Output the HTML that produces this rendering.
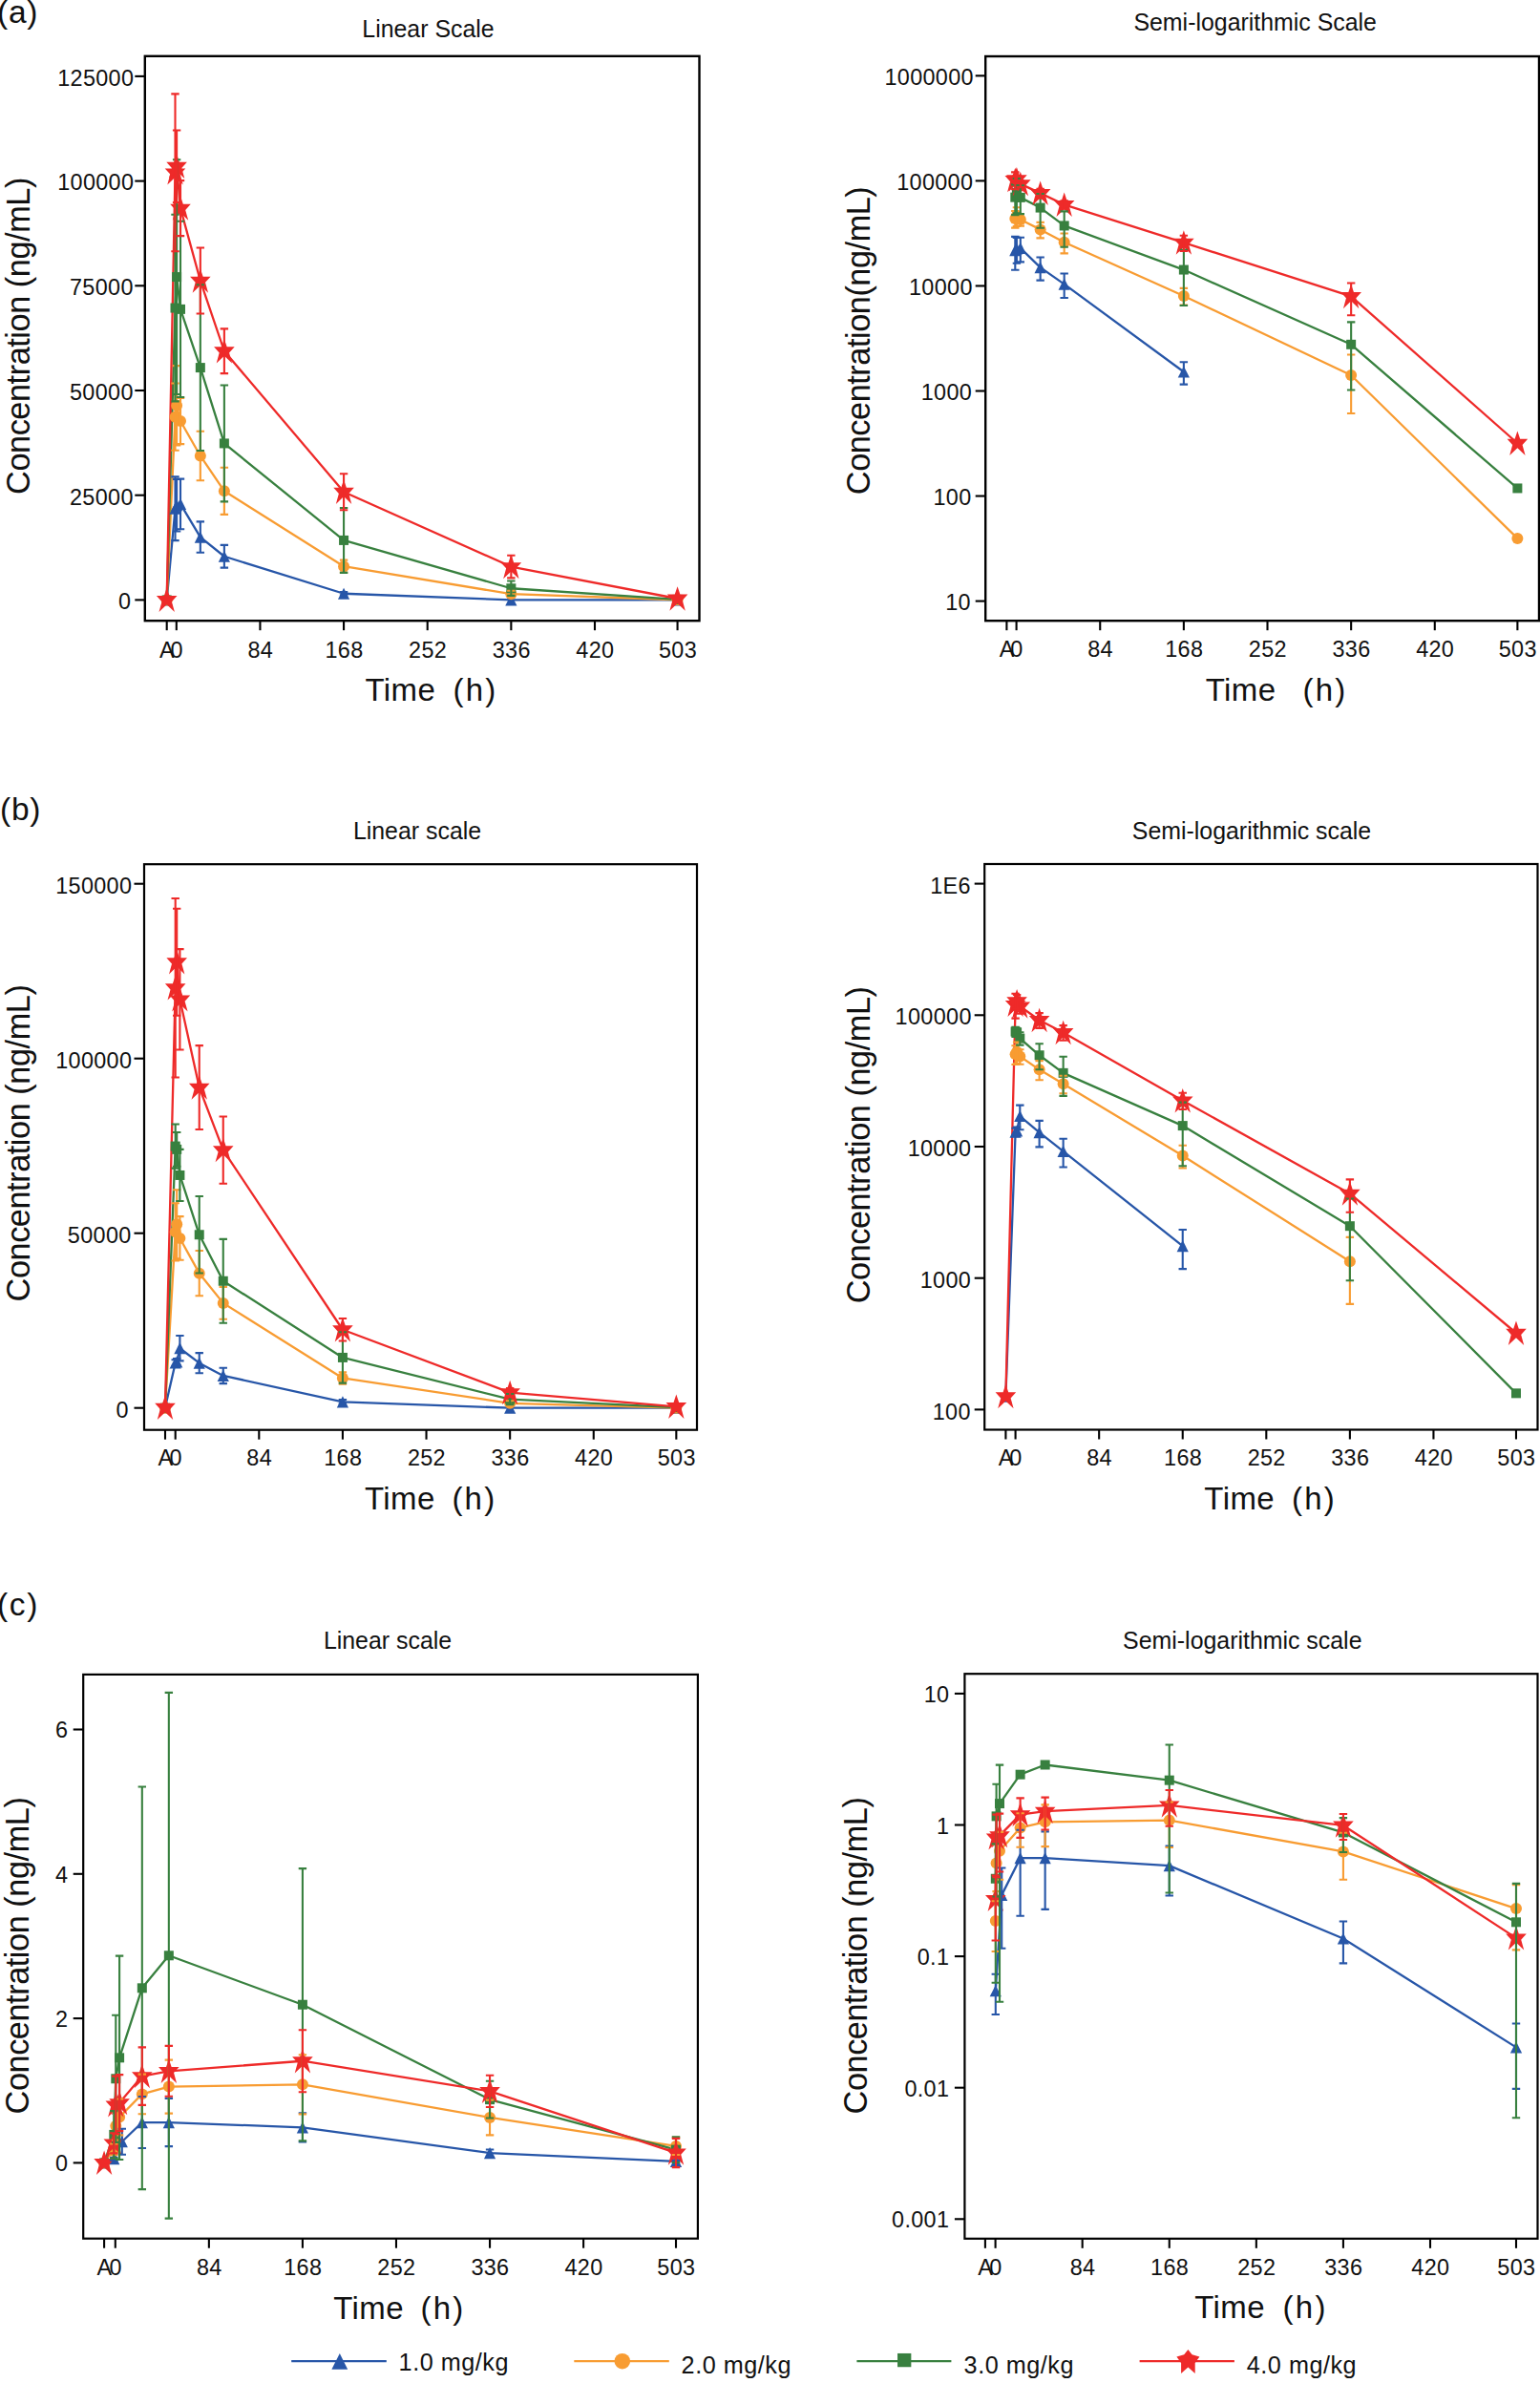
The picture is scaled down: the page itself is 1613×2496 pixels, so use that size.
<!DOCTYPE html>
<html lang="en"><head><meta charset="utf-8"><title>Concentration-time profiles</title>
<style>html,body{margin:0;padding:0;background:#fff}svg{display:block}</style></head>
<body>
<svg width="1613" height="2496" viewBox="0 0 1613 2496">
<rect width="1613" height="2496" fill="#fff"/>
<text x="-3" y="24.1" font-family="Liberation Sans, Arial, Helvetica, sans-serif" font-size="33.5" textLength="42.4" lengthAdjust="spacing" fill="#111">(a)</text>
<text x="0" y="858.5" font-family="Liberation Sans, Arial, Helvetica, sans-serif" font-size="33.5" textLength="42.4" lengthAdjust="spacing" fill="#111">(b)</text>
<text x="-3" y="1691.7" font-family="Liberation Sans, Arial, Helvetica, sans-serif" font-size="33.5" textLength="42.4" lengthAdjust="spacing" fill="#111">(c)</text>
<g id="aL">
<polyline fill="none" stroke="#2756A8" stroke-width="2.3" stroke-linejoin="round" points="174.7,628.4 183.5,532.74 185.1,529.23 189,527.91 209.84,562.58 234.88,582.76 360.07,621.73 535.35,628.4 709.58,628.4"/>
<polyline fill="none" stroke="#F89C32" stroke-width="2.3" stroke-linejoin="round" points="174.7,628.4 183.5,436.64 185.1,424.8 189,441.03 209.84,477.45 234.88,514.31 360.07,593.16 535.35,622.2 709.58,628.23"/>
<polyline fill="none" stroke="#38803F" stroke-width="2.3" stroke-linejoin="round" points="174.7,628.4 183.5,322.56 185.1,290.09 189,323.87 209.84,385.09 234.88,464.42 360.07,565.91 535.35,616.25 709.58,627.88"/>
<polyline fill="none" stroke="#EE2A29" stroke-width="2.3" stroke-linejoin="round" points="174.7,628.4 183.5,180.82 185.1,174.24 189,218.12 209.84,294.03 234.88,367.75 360.07,515.19 535.35,593.54 709.58,627"/>
<path d="M174.7 622.3 L180.8 634.5 L168.6 634.5 Z" fill="#2756A8"/>
<path d="M183.5 526.64 L189.6 538.84 L177.4 538.84 Z" fill="#2756A8"/>
<path d="M185.1 523.13 L191.2 535.33 L179 535.33 Z" fill="#2756A8"/>
<path d="M189 521.81 L195.1 534.01 L182.9 534.01 Z" fill="#2756A8"/>
<path d="M209.84 556.48 L215.94 568.68 L203.74 568.68 Z" fill="#2756A8"/>
<path d="M234.88 576.66 L240.98 588.86 L228.78 588.86 Z" fill="#2756A8"/>
<path d="M360.07 615.63 L366.17 627.83 L353.97 627.83 Z" fill="#2756A8"/>
<path d="M535.35 622.3 L541.45 634.5 L529.25 634.5 Z" fill="#2756A8"/>
<path d="M709.58 622.3 L715.68 634.5 L703.48 634.5 Z" fill="#2756A8"/>
<circle cx="174.7" cy="628.4" r="6" fill="#F89C32"/>
<circle cx="183.5" cy="436.64" r="6" fill="#F89C32"/>
<circle cx="185.1" cy="424.8" r="6" fill="#F89C32"/>
<circle cx="189" cy="441.03" r="6" fill="#F89C32"/>
<circle cx="209.84" cy="477.45" r="6" fill="#F89C32"/>
<circle cx="234.88" cy="514.31" r="6" fill="#F89C32"/>
<circle cx="360.07" cy="593.16" r="6" fill="#F89C32"/>
<circle cx="535.35" cy="622.2" r="6" fill="#F89C32"/>
<circle cx="709.58" cy="628.23" r="6" fill="#F89C32"/>
<rect x="169.7" y="623.4" width="10" height="10" fill="#38803F"/>
<rect x="178.5" y="317.56" width="10" height="10" fill="#38803F"/>
<rect x="180.1" y="285.09" width="10" height="10" fill="#38803F"/>
<rect x="184" y="318.87" width="10" height="10" fill="#38803F"/>
<rect x="204.84" y="380.09" width="10" height="10" fill="#38803F"/>
<rect x="229.88" y="459.42" width="10" height="10" fill="#38803F"/>
<rect x="355.07" y="560.91" width="10" height="10" fill="#38803F"/>
<rect x="530.35" y="611.25" width="10" height="10" fill="#38803F"/>
<rect x="704.58" y="622.88" width="10" height="10" fill="#38803F"/>
<path d="M174.7 615.6 L177.5 624 L185.5 624 L179.9 630.2 L182.9 641.1 L174.7 633.3 L166.5 641.1 L169.5 630.2 L163.9 624 L171.9 624 Z" fill="#EE2A29"/>
<path d="M183.5 168.02 L186.3 176.42 L194.3 176.42 L188.7 182.62 L191.7 193.52 L183.5 185.72 L175.3 193.52 L178.3 182.62 L172.7 176.42 L180.7 176.42 Z" fill="#EE2A29"/>
<path d="M185.1 161.44 L187.9 169.84 L195.9 169.84 L190.3 176.04 L193.3 186.94 L185.1 179.14 L176.9 186.94 L179.9 176.04 L174.3 169.84 L182.3 169.84 Z" fill="#EE2A29"/>
<path d="M189 205.32 L191.8 213.72 L199.8 213.72 L194.2 219.92 L197.2 230.82 L189 223.02 L180.8 230.82 L183.8 219.92 L178.2 213.72 L186.2 213.72 Z" fill="#EE2A29"/>
<path d="M209.84 281.23 L212.64 289.63 L220.64 289.63 L215.04 295.83 L218.04 306.73 L209.84 298.93 L201.64 306.73 L204.64 295.83 L199.04 289.63 L207.04 289.63 Z" fill="#EE2A29"/>
<path d="M234.88 354.95 L237.68 363.35 L245.68 363.35 L240.08 369.55 L243.08 380.45 L234.88 372.65 L226.68 380.45 L229.68 369.55 L224.08 363.35 L232.08 363.35 Z" fill="#EE2A29"/>
<path d="M360.07 502.39 L362.87 510.79 L370.87 510.79 L365.27 516.99 L368.27 527.89 L360.07 520.09 L351.87 527.89 L354.87 516.99 L349.27 510.79 L357.27 510.79 Z" fill="#EE2A29"/>
<path d="M535.35 580.74 L538.15 589.14 L546.15 589.14 L540.55 595.34 L543.55 606.24 L535.35 598.44 L527.15 606.24 L530.15 595.34 L524.55 589.14 L532.55 589.14 Z" fill="#EE2A29"/>
<path d="M709.58 614.2 L712.38 622.6 L720.38 622.6 L714.78 628.8 L717.78 639.7 L709.58 631.9 L701.38 639.7 L704.38 628.8 L698.78 622.6 L706.78 622.6 Z" fill="#EE2A29"/>
<path d="M183.5 499.39 V566.09 M179.3 499.39 H187.7 M179.3 566.09 H187.7" fill="none" stroke="#2756A8" stroke-width="2.1"/>
<path d="M185.1 502.03 V556.44 M180.9 502.03 H189.3 M180.9 556.44 H189.3" fill="none" stroke="#2756A8" stroke-width="2.1"/>
<path d="M189 501.59 V554.24 M184.8 501.59 H193.2 M184.8 554.24 H193.2" fill="none" stroke="#2756A8" stroke-width="2.1"/>
<path d="M209.84 546.34 V578.82 M205.64 546.34 H214.04 M205.64 578.82 H214.04" fill="none" stroke="#2756A8" stroke-width="2.1"/>
<path d="M234.88 570.92 V594.61 M230.68 570.92 H239.08 M230.68 594.61 H239.08" fill="none" stroke="#2756A8" stroke-width="2.1"/>
<path d="M360.07 620.13 V623.33 M355.87 620.13 H364.27 M355.87 623.33 H364.27" fill="none" stroke="#2756A8" stroke-width="2.1"/>
<path d="M183.5 401.54 V471.75 M179.3 401.54 H187.7 M179.3 471.75 H187.7" fill="none" stroke="#F89C32" stroke-width="2.1"/>
<path d="M185.1 383.11 V466.48 M180.9 383.11 H189.3 M180.9 466.48 H189.3" fill="none" stroke="#F89C32" stroke-width="2.1"/>
<path d="M189 416.9 V465.17 M184.8 416.9 H193.2 M184.8 465.17 H193.2" fill="none" stroke="#F89C32" stroke-width="2.1"/>
<path d="M209.84 451.7 V503.21 M205.64 451.7 H214.04 M205.64 503.21 H214.04" fill="none" stroke="#F89C32" stroke-width="2.1"/>
<path d="M234.88 489.74 V538.88 M230.68 489.74 H239.08 M230.68 538.88 H239.08" fill="none" stroke="#F89C32" stroke-width="2.1"/>
<path d="M360.07 586.67 V599.66 M355.87 586.67 H364.27 M355.87 599.66 H364.27" fill="none" stroke="#F89C32" stroke-width="2.1"/>
<path d="M535.35 618.69 V625.71 M531.15 618.69 H539.55 M531.15 625.71 H539.55" fill="none" stroke="#F89C32" stroke-width="2.1"/>
<path d="M183.5 224.7 V420.41 M179.3 224.7 H187.7 M179.3 420.41 H187.7" fill="none" stroke="#38803F" stroke-width="2.1"/>
<path d="M185.1 167.22 V412.95 M180.9 167.22 H189.3 M180.9 412.95 H189.3" fill="none" stroke="#38803F" stroke-width="2.1"/>
<path d="M189 231.72 V416.02 M184.8 231.72 H193.2 M184.8 416.02 H193.2" fill="none" stroke="#38803F" stroke-width="2.1"/>
<path d="M209.84 298.2 V471.97 M205.64 298.2 H214.04 M205.64 471.97 H214.04" fill="none" stroke="#38803F" stroke-width="2.1"/>
<path d="M234.88 403.43 V525.41 M230.68 403.43 H239.08 M230.68 525.41 H239.08" fill="none" stroke="#38803F" stroke-width="2.1"/>
<path d="M360.07 531.95 V599.88 M355.87 531.95 H364.27 M355.87 599.88 H364.27" fill="none" stroke="#38803F" stroke-width="2.1"/>
<path d="M535.35 608.57 V623.92 M531.15 608.57 H539.55 M531.15 623.92 H539.55" fill="none" stroke="#38803F" stroke-width="2.1"/>
<path d="M183.5 98.33 V263.32 M179.3 98.33 H187.7 M179.3 263.32 H187.7" fill="none" stroke="#EE2A29" stroke-width="2.1"/>
<path d="M185.1 136.51 V211.98 M180.9 136.51 H189.3 M180.9 211.98 H189.3" fill="none" stroke="#EE2A29" stroke-width="2.1"/>
<path d="M189 189.16 V247.08 M184.8 189.16 H193.2 M184.8 247.08 H193.2" fill="none" stroke="#EE2A29" stroke-width="2.1"/>
<path d="M209.84 259.54 V328.52 M205.64 259.54 H214.04 M205.64 328.52 H214.04" fill="none" stroke="#EE2A29" stroke-width="2.1"/>
<path d="M234.88 344.36 V391.14 M230.68 344.36 H239.08 M230.68 391.14 H239.08" fill="none" stroke="#EE2A29" stroke-width="2.1"/>
<path d="M360.07 496.19 V534.19 M355.87 496.19 H364.27 M355.87 534.19 H364.27" fill="none" stroke="#EE2A29" stroke-width="2.1"/>
<path d="M535.35 581.73 V605.34 M531.15 581.73 H539.55 M531.15 605.34 H539.55" fill="none" stroke="#EE2A29" stroke-width="2.1"/>
<rect x="151.8" y="58.8" width="580.7" height="591.4" fill="none" stroke="#000" stroke-width="2.4"/>
<line x1="141.3" y1="628.4" x2="151.8" y2="628.4" stroke="#000" stroke-width="2.1"/>
<text x="137.35" y="638.2" font-family="Liberation Sans, Arial, Helvetica, sans-serif" font-size="23.4" letter-spacing="0.35" text-anchor="end" fill="#111">0</text>
<line x1="141.3" y1="518.7" x2="151.8" y2="518.7" stroke="#000" stroke-width="2.1"/>
<text x="139.75" y="528.5" font-family="Liberation Sans, Arial, Helvetica, sans-serif" font-size="23.4" letter-spacing="0.35" text-anchor="end" fill="#111">25000</text>
<line x1="141.3" y1="409" x2="151.8" y2="409" stroke="#000" stroke-width="2.1"/>
<text x="139.75" y="418.8" font-family="Liberation Sans, Arial, Helvetica, sans-serif" font-size="23.4" letter-spacing="0.35" text-anchor="end" fill="#111">50000</text>
<line x1="141.3" y1="299.3" x2="151.8" y2="299.3" stroke="#000" stroke-width="2.1"/>
<text x="139.75" y="309.1" font-family="Liberation Sans, Arial, Helvetica, sans-serif" font-size="23.4" letter-spacing="0.35" text-anchor="end" fill="#111">75000</text>
<line x1="141.3" y1="189.6" x2="151.8" y2="189.6" stroke="#000" stroke-width="2.1"/>
<text x="140.35" y="199.4" font-family="Liberation Sans, Arial, Helvetica, sans-serif" font-size="23.4" letter-spacing="0.35" text-anchor="end" fill="#111">100000</text>
<line x1="141.3" y1="79.9" x2="151.8" y2="79.9" stroke="#000" stroke-width="2.1"/>
<text x="140.35" y="89.7" font-family="Liberation Sans, Arial, Helvetica, sans-serif" font-size="23.4" letter-spacing="0.35" text-anchor="end" fill="#111">125000</text>
<line x1="174.7" y1="650.2" x2="174.7" y2="660.2" stroke="#000" stroke-width="2.1"/>
<text x="175.1" y="688.8" font-family="Liberation Sans, Arial, Helvetica, sans-serif" font-size="23.4" letter-spacing="0.35" text-anchor="middle" fill="#111">A</text>
<line x1="184.8" y1="650.2" x2="184.8" y2="660.2" stroke="#000" stroke-width="2.1"/>
<text x="185.2" y="688.8" font-family="Liberation Sans, Arial, Helvetica, sans-serif" font-size="23.4" letter-spacing="0.35" text-anchor="middle" fill="#111">0</text>
<line x1="272.44" y1="650.2" x2="272.44" y2="660.2" stroke="#000" stroke-width="2.1"/>
<text x="272.84" y="688.8" font-family="Liberation Sans, Arial, Helvetica, sans-serif" font-size="23.4" letter-spacing="0.35" text-anchor="middle" fill="#111">84</text>
<line x1="360.07" y1="650.2" x2="360.07" y2="660.2" stroke="#000" stroke-width="2.1"/>
<text x="360.47" y="688.8" font-family="Liberation Sans, Arial, Helvetica, sans-serif" font-size="23.4" letter-spacing="0.35" text-anchor="middle" fill="#111">168</text>
<line x1="447.71" y1="650.2" x2="447.71" y2="660.2" stroke="#000" stroke-width="2.1"/>
<text x="448.11" y="688.8" font-family="Liberation Sans, Arial, Helvetica, sans-serif" font-size="23.4" letter-spacing="0.35" text-anchor="middle" fill="#111">252</text>
<line x1="535.35" y1="650.2" x2="535.35" y2="660.2" stroke="#000" stroke-width="2.1"/>
<text x="535.75" y="688.8" font-family="Liberation Sans, Arial, Helvetica, sans-serif" font-size="23.4" letter-spacing="0.35" text-anchor="middle" fill="#111">336</text>
<line x1="622.99" y1="650.2" x2="622.99" y2="660.2" stroke="#000" stroke-width="2.1"/>
<text x="623.39" y="688.8" font-family="Liberation Sans, Arial, Helvetica, sans-serif" font-size="23.4" letter-spacing="0.35" text-anchor="middle" fill="#111">420</text>
<line x1="709.58" y1="650.2" x2="709.58" y2="660.2" stroke="#000" stroke-width="2.1"/>
<text x="709.98" y="688.8" font-family="Liberation Sans, Arial, Helvetica, sans-serif" font-size="23.4" letter-spacing="0.35" text-anchor="middle" fill="#111">503</text>
<text x="448.5" y="39" font-family="Liberation Sans, Arial, Helvetica, sans-serif" font-size="24.9" text-anchor="middle" fill="#111">Linear Scale</text>
<text x="382.5" y="733.8" font-family="Liberation Sans, Arial, Helvetica, sans-serif" font-size="33" textLength="73.4" lengthAdjust="spacing" fill="#111">Time</text>
<text x="474.5" y="733.8" font-family="Liberation Sans, Arial, Helvetica, sans-serif" font-size="33" textLength="44.8" lengthAdjust="spacing" fill="#111">(h)</text>
<text transform="translate(31 351.8) rotate(-90)" font-family="Liberation Sans, Arial, Helvetica, sans-serif" font-size="34.3" textLength="332.26" lengthAdjust="spacing" text-anchor="middle" fill="#111">Concentration (ng/mL)</text>
</g>
<g id="aR">
<polyline fill="none" stroke="#2756A8" stroke-width="2.3" stroke-linejoin="round" points="1063.3,262.2 1064.9,260.48 1068.8,259.85 1089.64,280.07 1114.68,297.58 1239.87,389.49"/>
<polyline fill="none" stroke="#F89C32" stroke-width="2.3" stroke-linejoin="round" points="1063.3,228.97 1064.9,226.1 1068.8,230.07 1089.64,240.4 1114.68,253.78 1239.87,309.94 1415.15,393.01 1589.38,563.94"/>
<polyline fill="none" stroke="#38803F" stroke-width="2.3" stroke-linejoin="round" points="1063.3,206.65 1064.9,201.83 1068.8,206.86 1089.64,217.58 1114.68,236.44 1239.87,282.56 1415.15,360.81 1589.38,511.44"/>
<polyline fill="none" stroke="#EE2A29" stroke-width="2.3" stroke-linejoin="round" points="1063.3,188.45 1064.9,187.76 1068.8,192.61 1089.64,202.39 1114.68,214.29 1239.87,254.15 1415.15,310.44 1589.38,464.26"/>
<path d="M1063.3 256.1 L1069.4 268.3 L1057.2 268.3 Z" fill="#2756A8"/>
<path d="M1064.9 254.38 L1071 266.58 L1058.8 266.58 Z" fill="#2756A8"/>
<path d="M1068.8 253.75 L1074.9 265.95 L1062.7 265.95 Z" fill="#2756A8"/>
<path d="M1089.64 273.97 L1095.74 286.17 L1083.54 286.17 Z" fill="#2756A8"/>
<path d="M1114.68 291.48 L1120.78 303.68 L1108.58 303.68 Z" fill="#2756A8"/>
<path d="M1239.87 383.39 L1245.97 395.59 L1233.77 395.59 Z" fill="#2756A8"/>
<circle cx="1063.3" cy="228.97" r="6" fill="#F89C32"/>
<circle cx="1064.9" cy="226.1" r="6" fill="#F89C32"/>
<circle cx="1068.8" cy="230.07" r="6" fill="#F89C32"/>
<circle cx="1089.64" cy="240.4" r="6" fill="#F89C32"/>
<circle cx="1114.68" cy="253.78" r="6" fill="#F89C32"/>
<circle cx="1239.87" cy="309.94" r="6" fill="#F89C32"/>
<circle cx="1415.15" cy="393.01" r="6" fill="#F89C32"/>
<circle cx="1589.38" cy="563.94" r="6" fill="#F89C32"/>
<rect x="1058.3" y="201.65" width="10" height="10" fill="#38803F"/>
<rect x="1059.9" y="196.83" width="10" height="10" fill="#38803F"/>
<rect x="1063.8" y="201.86" width="10" height="10" fill="#38803F"/>
<rect x="1084.64" y="212.58" width="10" height="10" fill="#38803F"/>
<rect x="1109.68" y="231.44" width="10" height="10" fill="#38803F"/>
<rect x="1234.87" y="277.56" width="10" height="10" fill="#38803F"/>
<rect x="1410.15" y="355.81" width="10" height="10" fill="#38803F"/>
<rect x="1584.38" y="506.44" width="10" height="10" fill="#38803F"/>
<path d="M1063.3 175.65 L1066.1 184.05 L1074.1 184.05 L1068.5 190.25 L1071.5 201.15 L1063.3 193.35 L1055.1 201.15 L1058.1 190.25 L1052.5 184.05 L1060.5 184.05 Z" fill="#EE2A29"/>
<path d="M1064.9 174.96 L1067.7 183.36 L1075.7 183.36 L1070.1 189.56 L1073.1 200.46 L1064.9 192.66 L1056.7 200.46 L1059.7 189.56 L1054.1 183.36 L1062.1 183.36 Z" fill="#EE2A29"/>
<path d="M1068.8 179.81 L1071.6 188.21 L1079.6 188.21 L1074 194.41 L1077 205.31 L1068.8 197.51 L1060.6 205.31 L1063.6 194.41 L1058 188.21 L1066 188.21 Z" fill="#EE2A29"/>
<path d="M1089.64 189.59 L1092.44 197.99 L1100.44 197.99 L1094.84 204.19 L1097.84 215.09 L1089.64 207.29 L1081.44 215.09 L1084.44 204.19 L1078.84 197.99 L1086.84 197.99 Z" fill="#EE2A29"/>
<path d="M1114.68 201.49 L1117.48 209.89 L1125.48 209.89 L1119.88 216.09 L1122.88 226.99 L1114.68 219.19 L1106.48 226.99 L1109.48 216.09 L1103.88 209.89 L1111.88 209.89 Z" fill="#EE2A29"/>
<path d="M1239.87 241.35 L1242.67 249.75 L1250.67 249.75 L1245.07 255.95 L1248.07 266.85 L1239.87 259.05 L1231.67 266.85 L1234.67 255.95 L1229.07 249.75 L1237.07 249.75 Z" fill="#EE2A29"/>
<path d="M1415.15 297.64 L1417.95 306.04 L1425.95 306.04 L1420.35 312.24 L1423.35 323.14 L1415.15 315.34 L1406.95 323.14 L1409.95 312.24 L1404.35 306.04 L1412.35 306.04 Z" fill="#EE2A29"/>
<path d="M1589.38 451.46 L1592.18 459.86 L1600.18 459.86 L1594.58 466.06 L1597.58 476.96 L1589.38 469.16 L1581.18 476.96 L1584.18 466.06 L1578.58 459.86 L1586.58 459.86 Z" fill="#EE2A29"/>
<path d="M1063.3 247.91 V282.69 M1059.1 247.91 H1067.5 M1059.1 282.69 H1067.5" fill="none" stroke="#2756A8" stroke-width="2.1"/>
<path d="M1064.9 248.89 V275.81 M1060.7 248.89 H1069.1 M1060.7 275.81 H1069.1" fill="none" stroke="#2756A8" stroke-width="2.1"/>
<path d="M1068.8 248.73 V274.37 M1064.6 248.73 H1073 M1064.6 274.37 H1073" fill="none" stroke="#2756A8" stroke-width="2.1"/>
<path d="M1089.64 269.53 V293.61 M1085.44 269.53 H1093.84 M1085.44 293.61 H1093.84" fill="none" stroke="#2756A8" stroke-width="2.1"/>
<path d="M1114.68 286.54 V311.94 M1110.48 286.54 H1118.88 M1110.48 311.94 H1118.88" fill="none" stroke="#2756A8" stroke-width="2.1"/>
<path d="M1239.87 379.2 V402.61 M1235.67 379.2 H1244.07 M1235.67 402.61 H1244.07" fill="none" stroke="#2756A8" stroke-width="2.1"/>
<path d="M1063.3 220.93 V238.63 M1059.1 220.93 H1067.5 M1059.1 238.63 H1067.5" fill="none" stroke="#F89C32" stroke-width="2.1"/>
<path d="M1064.9 217.2 V237.05 M1060.7 217.2 H1069.1 M1060.7 237.05 H1069.1" fill="none" stroke="#F89C32" stroke-width="2.1"/>
<path d="M1068.8 224.28 V236.66 M1064.6 224.28 H1073 M1064.6 236.66 H1073" fill="none" stroke="#F89C32" stroke-width="2.1"/>
<path d="M1089.64 232.87 V249.34 M1085.44 232.87 H1093.84 M1085.44 249.34 H1093.84" fill="none" stroke="#F89C32" stroke-width="2.1"/>
<path d="M1114.68 244.46 V265.38 M1110.48 244.46 H1118.88 M1110.48 265.38 H1118.88" fill="none" stroke="#F89C32" stroke-width="2.1"/>
<path d="M1239.87 301.85 V319.67 M1235.67 301.85 H1244.07 M1235.67 319.67 H1244.07" fill="none" stroke="#F89C32" stroke-width="2.1"/>
<path d="M1415.15 371.56 V432.97 M1410.95 371.56 H1419.35 M1410.95 432.97 H1419.35" fill="none" stroke="#F89C32" stroke-width="2.1"/>
<path d="M1063.3 193.39 V225.08 M1059.1 193.39 H1067.5 M1059.1 225.08 H1067.5" fill="none" stroke="#38803F" stroke-width="2.1"/>
<path d="M1064.9 187.02 V223.4 M1060.7 187.02 H1069.1 M1060.7 223.4 H1069.1" fill="none" stroke="#38803F" stroke-width="2.1"/>
<path d="M1068.8 194.22 V224.08 M1064.6 194.22 H1073 M1064.6 224.08 H1073" fill="none" stroke="#38803F" stroke-width="2.1"/>
<path d="M1089.64 202.99 V238.7 M1085.44 202.99 H1093.84 M1085.44 238.7 H1093.84" fill="none" stroke="#38803F" stroke-width="2.1"/>
<path d="M1114.68 221.33 V258.68 M1110.48 221.33 H1118.88 M1110.48 258.68 H1118.88" fill="none" stroke="#38803F" stroke-width="2.1"/>
<path d="M1239.87 261.81 V320.04 M1235.67 261.81 H1244.07 M1235.67 320.04 H1244.07" fill="none" stroke="#38803F" stroke-width="2.1"/>
<path d="M1415.15 337.4 V408.55 M1410.95 337.4 H1419.35 M1410.95 408.55 H1419.35" fill="none" stroke="#38803F" stroke-width="2.1"/>
<path d="M1063.3 180.37 V198.19 M1059.1 180.37 H1067.5 M1059.1 198.19 H1067.5" fill="none" stroke="#EE2A29" stroke-width="2.1"/>
<path d="M1064.9 183.94 V191.9 M1060.7 183.94 H1069.1 M1060.7 191.9 H1069.1" fill="none" stroke="#EE2A29" stroke-width="2.1"/>
<path d="M1068.8 189.35 V196.11 M1064.6 189.35 H1073 M1064.6 196.11 H1073" fill="none" stroke="#EE2A29" stroke-width="2.1"/>
<path d="M1089.64 197.7 V207.59 M1085.44 197.7 H1093.84 M1085.44 207.59 H1093.84" fill="none" stroke="#EE2A29" stroke-width="2.1"/>
<path d="M1114.68 210.19 V218.79 M1110.48 210.19 H1118.88 M1110.48 218.79 H1118.88" fill="none" stroke="#EE2A29" stroke-width="2.1"/>
<path d="M1239.87 246.74 V262.93 M1235.67 246.74 H1244.07 M1235.67 262.93 H1244.07" fill="none" stroke="#EE2A29" stroke-width="2.1"/>
<path d="M1415.15 296.51 V330.2 M1410.95 296.51 H1419.35 M1410.95 330.2 H1419.35" fill="none" stroke="#EE2A29" stroke-width="2.1"/>
<rect x="1032.2" y="59" width="579.8" height="591.2" fill="none" stroke="#000" stroke-width="2.4"/>
<line x1="1021.7" y1="629.6" x2="1032.2" y2="629.6" stroke="#000" stroke-width="2.1"/>
<text x="1016.95" y="639.05" font-family="Liberation Sans, Arial, Helvetica, sans-serif" font-size="23.4" letter-spacing="0.35" text-anchor="end" fill="#111">10</text>
<line x1="1021.7" y1="519.55" x2="1032.2" y2="519.55" stroke="#000" stroke-width="2.1"/>
<text x="1017.55" y="529" font-family="Liberation Sans, Arial, Helvetica, sans-serif" font-size="23.4" letter-spacing="0.35" text-anchor="end" fill="#111">100</text>
<line x1="1021.7" y1="409.5" x2="1032.2" y2="409.5" stroke="#000" stroke-width="2.1"/>
<text x="1018.15" y="418.95" font-family="Liberation Sans, Arial, Helvetica, sans-serif" font-size="23.4" letter-spacing="0.35" text-anchor="end" fill="#111">1000</text>
<line x1="1021.7" y1="299.45" x2="1032.2" y2="299.45" stroke="#000" stroke-width="2.1"/>
<text x="1018.75" y="308.9" font-family="Liberation Sans, Arial, Helvetica, sans-serif" font-size="23.4" letter-spacing="0.35" text-anchor="end" fill="#111">10000</text>
<line x1="1021.7" y1="189.4" x2="1032.2" y2="189.4" stroke="#000" stroke-width="2.1"/>
<text x="1019.35" y="198.85" font-family="Liberation Sans, Arial, Helvetica, sans-serif" font-size="23.4" letter-spacing="0.35" text-anchor="end" fill="#111">100000</text>
<line x1="1021.7" y1="79.35" x2="1032.2" y2="79.35" stroke="#000" stroke-width="2.1"/>
<text x="1019.95" y="88.8" font-family="Liberation Sans, Arial, Helvetica, sans-serif" font-size="23.4" letter-spacing="0.35" text-anchor="end" fill="#111">1000000</text>
<line x1="1054.4" y1="650.2" x2="1054.4" y2="660.2" stroke="#000" stroke-width="2.1"/>
<text x="1054.8" y="688.3" font-family="Liberation Sans, Arial, Helvetica, sans-serif" font-size="23.4" letter-spacing="0.35" text-anchor="middle" fill="#111">A</text>
<line x1="1064.6" y1="650.2" x2="1064.6" y2="660.2" stroke="#000" stroke-width="2.1"/>
<text x="1065" y="688.3" font-family="Liberation Sans, Arial, Helvetica, sans-serif" font-size="23.4" letter-spacing="0.35" text-anchor="middle" fill="#111">0</text>
<line x1="1152.24" y1="650.2" x2="1152.24" y2="660.2" stroke="#000" stroke-width="2.1"/>
<text x="1152.64" y="688.3" font-family="Liberation Sans, Arial, Helvetica, sans-serif" font-size="23.4" letter-spacing="0.35" text-anchor="middle" fill="#111">84</text>
<line x1="1239.87" y1="650.2" x2="1239.87" y2="660.2" stroke="#000" stroke-width="2.1"/>
<text x="1240.27" y="688.3" font-family="Liberation Sans, Arial, Helvetica, sans-serif" font-size="23.4" letter-spacing="0.35" text-anchor="middle" fill="#111">168</text>
<line x1="1327.51" y1="650.2" x2="1327.51" y2="660.2" stroke="#000" stroke-width="2.1"/>
<text x="1327.91" y="688.3" font-family="Liberation Sans, Arial, Helvetica, sans-serif" font-size="23.4" letter-spacing="0.35" text-anchor="middle" fill="#111">252</text>
<line x1="1415.15" y1="650.2" x2="1415.15" y2="660.2" stroke="#000" stroke-width="2.1"/>
<text x="1415.55" y="688.3" font-family="Liberation Sans, Arial, Helvetica, sans-serif" font-size="23.4" letter-spacing="0.35" text-anchor="middle" fill="#111">336</text>
<line x1="1502.79" y1="650.2" x2="1502.79" y2="660.2" stroke="#000" stroke-width="2.1"/>
<text x="1503.19" y="688.3" font-family="Liberation Sans, Arial, Helvetica, sans-serif" font-size="23.4" letter-spacing="0.35" text-anchor="middle" fill="#111">420</text>
<line x1="1589.38" y1="650.2" x2="1589.38" y2="660.2" stroke="#000" stroke-width="2.1"/>
<text x="1589.78" y="688.3" font-family="Liberation Sans, Arial, Helvetica, sans-serif" font-size="23.4" letter-spacing="0.35" text-anchor="middle" fill="#111">503</text>
<text x="1314.7" y="31.6" font-family="Liberation Sans, Arial, Helvetica, sans-serif" font-size="24.9" text-anchor="middle" fill="#111">Semi-logarithmic Scale</text>
<text x="1262.7" y="734.4" font-family="Liberation Sans, Arial, Helvetica, sans-serif" font-size="33" textLength="73.4" lengthAdjust="spacing" fill="#111">Time</text>
<text x="1364.5" y="734.4" font-family="Liberation Sans, Arial, Helvetica, sans-serif" font-size="33" textLength="44.8" lengthAdjust="spacing" fill="#111">(h)</text>
<text transform="translate(911.2 356.7) rotate(-90)" font-family="Liberation Sans, Arial, Helvetica, sans-serif" font-size="34.3" textLength="322.98" lengthAdjust="spacing" text-anchor="middle" fill="#111">Concentration(ng/mL)</text>
</g>
<g id="bL">
<polyline fill="none" stroke="#2756A8" stroke-width="2.3" stroke-linejoin="round" points="173,1474.24 183.7,1427.49 185.2,1426.39 188.4,1412.22 208.73,1427.71 233.76,1440.92 358.92,1468.28 534.15,1474.7 708.33,1474.7"/>
<polyline fill="none" stroke="#F89C32" stroke-width="2.3" stroke-linejoin="round" points="173,1474.7 183.7,1290.38 185.2,1282.29 188.4,1296.97 208.73,1333.68 233.76,1364.9 358.92,1443.48 534.15,1469.8 708.33,1474.7"/>
<polyline fill="none" stroke="#38803F" stroke-width="2.3" stroke-linejoin="round" points="173,1474.7 183.7,1200.57 185.2,1203.86 188.4,1230.94 208.73,1293.27 233.76,1341.77 358.92,1421.92 534.15,1465.59 708.33,1474.21"/>
<polyline fill="none" stroke="#EE2A29" stroke-width="2.3" stroke-linejoin="round" points="173,1474.24 183.7,1034.77 185.2,1007.68 188.4,1046.85 208.73,1139.08 233.76,1204.59 358.92,1392.75 534.15,1458.61 708.33,1473.3"/>
<path d="M173 1468.14 L179.1 1480.34 L166.9 1480.34 Z" fill="#2756A8"/>
<path d="M183.7 1421.39 L189.8 1433.59 L177.6 1433.59 Z" fill="#2756A8"/>
<path d="M185.2 1420.29 L191.3 1432.49 L179.1 1432.49 Z" fill="#2756A8"/>
<path d="M188.4 1406.12 L194.5 1418.32 L182.3 1418.32 Z" fill="#2756A8"/>
<path d="M208.73 1421.61 L214.83 1433.81 L202.63 1433.81 Z" fill="#2756A8"/>
<path d="M233.76 1434.82 L239.86 1447.02 L227.66 1447.02 Z" fill="#2756A8"/>
<path d="M358.92 1462.18 L365.02 1474.38 L352.82 1474.38 Z" fill="#2756A8"/>
<path d="M534.15 1468.6 L540.25 1480.8 L528.05 1480.8 Z" fill="#2756A8"/>
<path d="M708.33 1468.6 L714.43 1480.8 L702.23 1480.8 Z" fill="#2756A8"/>
<circle cx="173" cy="1474.7" r="6" fill="#F89C32"/>
<circle cx="183.7" cy="1290.38" r="6" fill="#F89C32"/>
<circle cx="185.2" cy="1282.29" r="6" fill="#F89C32"/>
<circle cx="188.4" cy="1296.97" r="6" fill="#F89C32"/>
<circle cx="208.73" cy="1333.68" r="6" fill="#F89C32"/>
<circle cx="233.76" cy="1364.9" r="6" fill="#F89C32"/>
<circle cx="358.92" cy="1443.48" r="6" fill="#F89C32"/>
<circle cx="534.15" cy="1469.8" r="6" fill="#F89C32"/>
<circle cx="708.33" cy="1474.7" r="6" fill="#F89C32"/>
<rect x="168" y="1469.7" width="10" height="10" fill="#38803F"/>
<rect x="178.7" y="1195.57" width="10" height="10" fill="#38803F"/>
<rect x="180.2" y="1198.86" width="10" height="10" fill="#38803F"/>
<rect x="183.4" y="1225.94" width="10" height="10" fill="#38803F"/>
<rect x="203.73" y="1288.27" width="10" height="10" fill="#38803F"/>
<rect x="228.76" y="1336.77" width="10" height="10" fill="#38803F"/>
<rect x="353.92" y="1416.92" width="10" height="10" fill="#38803F"/>
<rect x="529.15" y="1460.59" width="10" height="10" fill="#38803F"/>
<rect x="703.33" y="1469.21" width="10" height="10" fill="#38803F"/>
<path d="M173 1461.44 L175.8 1469.84 L183.8 1469.84 L178.2 1476.04 L181.2 1486.94 L173 1479.14 L164.8 1486.94 L167.8 1476.04 L162.2 1469.84 L170.2 1469.84 Z" fill="#EE2A29"/>
<path d="M183.7 1021.97 L186.5 1030.37 L194.5 1030.37 L188.9 1036.57 L191.9 1047.47 L183.7 1039.67 L175.5 1047.47 L178.5 1036.57 L172.9 1030.37 L180.9 1030.37 Z" fill="#EE2A29"/>
<path d="M185.2 994.88 L188 1003.28 L196 1003.28 L190.4 1009.48 L193.4 1020.38 L185.2 1012.58 L177 1020.38 L180 1009.48 L174.4 1003.28 L182.4 1003.28 Z" fill="#EE2A29"/>
<path d="M188.4 1034.05 L191.2 1042.45 L199.2 1042.45 L193.6 1048.65 L196.6 1059.55 L188.4 1051.75 L180.2 1059.55 L183.2 1048.65 L177.6 1042.45 L185.6 1042.45 Z" fill="#EE2A29"/>
<path d="M208.73 1126.28 L211.53 1134.68 L219.53 1134.68 L213.93 1140.88 L216.93 1151.78 L208.73 1143.98 L200.53 1151.78 L203.53 1140.88 L197.93 1134.68 L205.93 1134.68 Z" fill="#EE2A29"/>
<path d="M233.76 1191.79 L236.56 1200.19 L244.56 1200.19 L238.96 1206.39 L241.96 1217.29 L233.76 1209.49 L225.56 1217.29 L228.56 1206.39 L222.96 1200.19 L230.96 1200.19 Z" fill="#EE2A29"/>
<path d="M358.92 1379.95 L361.72 1388.35 L369.72 1388.35 L364.12 1394.55 L367.12 1405.45 L358.92 1397.65 L350.72 1405.45 L353.72 1394.55 L348.12 1388.35 L356.12 1388.35 Z" fill="#EE2A29"/>
<path d="M534.15 1445.81 L536.95 1454.21 L544.95 1454.21 L539.35 1460.41 L542.35 1471.31 L534.15 1463.51 L525.95 1471.31 L528.95 1460.41 L523.35 1454.21 L531.35 1454.21 Z" fill="#EE2A29"/>
<path d="M708.33 1460.5 L711.13 1468.9 L719.13 1468.9 L713.53 1475.1 L716.53 1486 L708.33 1478.2 L700.13 1486 L703.13 1475.1 L697.53 1468.9 L705.53 1468.9 Z" fill="#EE2A29"/>
<path d="M183.7 1424.19 V1430.78 M179.5 1424.19 H187.9 M179.5 1430.78 H187.9" fill="none" stroke="#2756A8" stroke-width="2.1"/>
<path d="M185.2 1423.09 V1429.68 M181 1423.09 H189.4 M181 1429.68 H189.4" fill="none" stroke="#2756A8" stroke-width="2.1"/>
<path d="M188.4 1399.05 V1425.4 M184.2 1399.05 H192.6 M184.2 1425.4 H192.6" fill="none" stroke="#2756A8" stroke-width="2.1"/>
<path d="M208.73 1417.09 V1438.32 M204.53 1417.09 H212.93 M204.53 1438.32 H212.93" fill="none" stroke="#2756A8" stroke-width="2.1"/>
<path d="M233.76 1432.68 V1449.15 M229.56 1432.68 H237.96 M229.56 1449.15 H237.96" fill="none" stroke="#2756A8" stroke-width="2.1"/>
<path d="M358.92 1466.16 V1470.4 M354.72 1466.16 H363.12 M354.72 1470.4 H363.12" fill="none" stroke="#2756A8" stroke-width="2.1"/>
<path d="M183.7 1260.22 V1320.54 M179.5 1260.22 H187.9 M179.5 1320.54 H187.9" fill="none" stroke="#F89C32" stroke-width="2.1"/>
<path d="M185.2 1246.32 V1318.27 M181 1246.32 H189.4 M181 1318.27 H189.4" fill="none" stroke="#F89C32" stroke-width="2.1"/>
<path d="M188.4 1274.13 V1319.81 M184.2 1274.13 H192.6 M184.2 1319.81 H192.6" fill="none" stroke="#F89C32" stroke-width="2.1"/>
<path d="M208.73 1310.07 V1357.29 M204.53 1310.07 H212.93 M204.53 1357.29 H212.93" fill="none" stroke="#F89C32" stroke-width="2.1"/>
<path d="M233.76 1348.06 V1381.74 M229.56 1348.06 H237.96 M229.56 1381.74 H237.96" fill="none" stroke="#F89C32" stroke-width="2.1"/>
<path d="M358.92 1437.37 V1449.59 M354.72 1437.37 H363.12 M354.72 1449.59 H363.12" fill="none" stroke="#F89C32" stroke-width="2.1"/>
<path d="M534.15 1467.22 V1472.38 M529.95 1467.22 H538.35 M529.95 1472.38 H538.35" fill="none" stroke="#F89C32" stroke-width="2.1"/>
<path d="M183.7 1177.51 V1223.62 M179.5 1177.51 H187.9 M179.5 1223.62 H187.9" fill="none" stroke="#38803F" stroke-width="2.1"/>
<path d="M185.2 1185.93 V1221.79 M181 1185.93 H189.4 M181 1221.79 H189.4" fill="none" stroke="#38803F" stroke-width="2.1"/>
<path d="M188.4 1203.86 V1258.03 M184.2 1203.86 H192.6 M184.2 1258.03 H192.6" fill="none" stroke="#38803F" stroke-width="2.1"/>
<path d="M208.73 1253.01 V1333.53 M204.53 1253.01 H212.93 M204.53 1333.53 H212.93" fill="none" stroke="#38803F" stroke-width="2.1"/>
<path d="M233.76 1297.85 V1385.69 M229.56 1297.85 H237.96 M229.56 1385.69 H237.96" fill="none" stroke="#38803F" stroke-width="2.1"/>
<path d="M358.92 1395.24 V1448.6 M354.72 1395.24 H363.12 M354.72 1448.6 H363.12" fill="none" stroke="#38803F" stroke-width="2.1"/>
<path d="M534.15 1459.99 V1471.19 M529.95 1459.99 H538.35 M529.95 1471.19 H538.35" fill="none" stroke="#38803F" stroke-width="2.1"/>
<path d="M183.7 941.07 V1128.46 M179.5 941.07 H187.9 M179.5 1128.46 H187.9" fill="none" stroke="#EE2A29" stroke-width="2.1"/>
<path d="M185.2 951.69 V1063.68 M181 951.69 H189.4 M181 1063.68 H189.4" fill="none" stroke="#EE2A29" stroke-width="2.1"/>
<path d="M188.4 994.14 V1099.55 M184.2 994.14 H192.6 M184.2 1099.55 H192.6" fill="none" stroke="#EE2A29" stroke-width="2.1"/>
<path d="M208.73 1095.16 V1183 M204.53 1095.16 H212.93 M204.53 1183 H212.93" fill="none" stroke="#EE2A29" stroke-width="2.1"/>
<path d="M233.76 1169.46 V1239.73 M229.56 1169.46 H237.96 M229.56 1239.73 H237.96" fill="none" stroke="#EE2A29" stroke-width="2.1"/>
<path d="M358.92 1381.04 V1404.46 M354.72 1381.04 H363.12 M354.72 1404.46 H363.12" fill="none" stroke="#EE2A29" stroke-width="2.1"/>
<path d="M534.15 1454.11 V1463.12 M529.95 1454.11 H538.35 M529.95 1463.12 H538.35" fill="none" stroke="#EE2A29" stroke-width="2.1"/>
<rect x="151" y="905.2" width="579" height="592.5" fill="none" stroke="#000" stroke-width="2.2"/>
<line x1="140.5" y1="1474.7" x2="151" y2="1474.7" stroke="#000" stroke-width="2.1"/>
<text x="134.85" y="1485.2" font-family="Liberation Sans, Arial, Helvetica, sans-serif" font-size="23.4" letter-spacing="0.35" text-anchor="end" fill="#111">0</text>
<line x1="140.5" y1="1291.7" x2="151" y2="1291.7" stroke="#000" stroke-width="2.1"/>
<text x="137.65" y="1302.2" font-family="Liberation Sans, Arial, Helvetica, sans-serif" font-size="23.4" letter-spacing="0.35" text-anchor="end" fill="#111">50000</text>
<line x1="140.5" y1="1108.7" x2="151" y2="1108.7" stroke="#000" stroke-width="2.1"/>
<text x="138.35" y="1119.2" font-family="Liberation Sans, Arial, Helvetica, sans-serif" font-size="23.4" letter-spacing="0.35" text-anchor="end" fill="#111">100000</text>
<line x1="140.5" y1="925.7" x2="151" y2="925.7" stroke="#000" stroke-width="2.1"/>
<text x="138.35" y="936.2" font-family="Liberation Sans, Arial, Helvetica, sans-serif" font-size="23.4" letter-spacing="0.35" text-anchor="end" fill="#111">150000</text>
<line x1="173" y1="1497.7" x2="173" y2="1507.7" stroke="#000" stroke-width="2.1"/>
<text x="173.4" y="1535.3" font-family="Liberation Sans, Arial, Helvetica, sans-serif" font-size="23.4" letter-spacing="0.35" text-anchor="middle" fill="#111">A</text>
<line x1="183.7" y1="1497.7" x2="183.7" y2="1507.7" stroke="#000" stroke-width="2.1"/>
<text x="184.1" y="1535.3" font-family="Liberation Sans, Arial, Helvetica, sans-serif" font-size="23.4" letter-spacing="0.35" text-anchor="middle" fill="#111">0</text>
<line x1="271.31" y1="1497.7" x2="271.31" y2="1507.7" stroke="#000" stroke-width="2.1"/>
<text x="271.71" y="1535.3" font-family="Liberation Sans, Arial, Helvetica, sans-serif" font-size="23.4" letter-spacing="0.35" text-anchor="middle" fill="#111">84</text>
<line x1="358.92" y1="1497.7" x2="358.92" y2="1507.7" stroke="#000" stroke-width="2.1"/>
<text x="359.32" y="1535.3" font-family="Liberation Sans, Arial, Helvetica, sans-serif" font-size="23.4" letter-spacing="0.35" text-anchor="middle" fill="#111">168</text>
<line x1="446.54" y1="1497.7" x2="446.54" y2="1507.7" stroke="#000" stroke-width="2.1"/>
<text x="446.94" y="1535.3" font-family="Liberation Sans, Arial, Helvetica, sans-serif" font-size="23.4" letter-spacing="0.35" text-anchor="middle" fill="#111">252</text>
<line x1="534.15" y1="1497.7" x2="534.15" y2="1507.7" stroke="#000" stroke-width="2.1"/>
<text x="534.55" y="1535.3" font-family="Liberation Sans, Arial, Helvetica, sans-serif" font-size="23.4" letter-spacing="0.35" text-anchor="middle" fill="#111">336</text>
<line x1="621.76" y1="1497.7" x2="621.76" y2="1507.7" stroke="#000" stroke-width="2.1"/>
<text x="622.16" y="1535.3" font-family="Liberation Sans, Arial, Helvetica, sans-serif" font-size="23.4" letter-spacing="0.35" text-anchor="middle" fill="#111">420</text>
<line x1="708.33" y1="1497.7" x2="708.33" y2="1507.7" stroke="#000" stroke-width="2.1"/>
<text x="708.73" y="1535.3" font-family="Liberation Sans, Arial, Helvetica, sans-serif" font-size="23.4" letter-spacing="0.35" text-anchor="middle" fill="#111">503</text>
<text x="437" y="878.7" font-family="Liberation Sans, Arial, Helvetica, sans-serif" font-size="24.9" text-anchor="middle" fill="#111">Linear scale</text>
<text x="382" y="1581.4" font-family="Liberation Sans, Arial, Helvetica, sans-serif" font-size="33" textLength="73.4" lengthAdjust="spacing" fill="#111">Time</text>
<text x="473.4" y="1581.4" font-family="Liberation Sans, Arial, Helvetica, sans-serif" font-size="33" textLength="44.8" lengthAdjust="spacing" fill="#111">(h)</text>
<text transform="translate(31 1197.3) rotate(-90)" font-family="Liberation Sans, Arial, Helvetica, sans-serif" font-size="34.3" textLength="332.26" lengthAdjust="spacing" text-anchor="middle" fill="#111">Concentration (ng/mL)</text>
</g>
<g id="bR">
<polyline fill="none" stroke="#2756A8" stroke-width="2.3" stroke-linejoin="round" points="1053.4,1462.58 1063.6,1185.77 1065.1,1184.4 1068.3,1169.02 1088.62,1186.05 1113.64,1205.79 1238.74,1305.1"/>
<polyline fill="none" stroke="#F89C32" stroke-width="2.3" stroke-linejoin="round" points="1063.6,1104.32 1065.1,1101.75 1068.3,1106.5 1088.62,1120.34 1113.64,1135.3 1238.74,1210.51 1413.88,1321.2"/>
<polyline fill="none" stroke="#38803F" stroke-width="2.3" stroke-linejoin="round" points="1063.6,1080.58 1065.1,1081.31 1068.3,1087.61 1088.62,1105.27 1113.64,1123.87 1238.74,1179.11 1413.88,1284.19 1587.98,1459.35"/>
<polyline fill="none" stroke="#EE2A29" stroke-width="2.3" stroke-linejoin="round" points="1053.4,1462.58 1063.6,1052.3 1065.1,1048.72 1068.3,1053.96 1088.62,1068.48 1113.64,1081.47 1238.74,1152.8 1413.88,1250.16 1587.98,1396.25"/>
<path d="M1053.4 1456.48 L1059.5 1468.68 L1047.3 1468.68 Z" fill="#2756A8"/>
<path d="M1063.6 1179.67 L1069.7 1191.87 L1057.5 1191.87 Z" fill="#2756A8"/>
<path d="M1065.1 1178.3 L1071.2 1190.5 L1059 1190.5 Z" fill="#2756A8"/>
<path d="M1068.3 1162.92 L1074.4 1175.12 L1062.2 1175.12 Z" fill="#2756A8"/>
<path d="M1088.62 1179.95 L1094.72 1192.15 L1082.52 1192.15 Z" fill="#2756A8"/>
<path d="M1113.64 1199.69 L1119.74 1211.89 L1107.54 1211.89 Z" fill="#2756A8"/>
<path d="M1238.74 1299 L1244.84 1311.2 L1232.64 1311.2 Z" fill="#2756A8"/>
<circle cx="1063.6" cy="1104.32" r="6" fill="#F89C32"/>
<circle cx="1065.1" cy="1101.75" r="6" fill="#F89C32"/>
<circle cx="1068.3" cy="1106.5" r="6" fill="#F89C32"/>
<circle cx="1088.62" cy="1120.34" r="6" fill="#F89C32"/>
<circle cx="1113.64" cy="1135.3" r="6" fill="#F89C32"/>
<circle cx="1238.74" cy="1210.51" r="6" fill="#F89C32"/>
<circle cx="1413.88" cy="1321.2" r="6" fill="#F89C32"/>
<rect x="1058.6" y="1075.58" width="10" height="10" fill="#38803F"/>
<rect x="1060.1" y="1076.31" width="10" height="10" fill="#38803F"/>
<rect x="1063.3" y="1082.61" width="10" height="10" fill="#38803F"/>
<rect x="1083.62" y="1100.27" width="10" height="10" fill="#38803F"/>
<rect x="1108.64" y="1118.87" width="10" height="10" fill="#38803F"/>
<rect x="1233.74" y="1174.11" width="10" height="10" fill="#38803F"/>
<rect x="1408.88" y="1279.19" width="10" height="10" fill="#38803F"/>
<rect x="1582.98" y="1454.35" width="10" height="10" fill="#38803F"/>
<path d="M1053.4 1449.78 L1056.2 1458.18 L1064.2 1458.18 L1058.6 1464.38 L1061.6 1475.28 L1053.4 1467.48 L1045.2 1475.28 L1048.2 1464.38 L1042.6 1458.18 L1050.6 1458.18 Z" fill="#EE2A29"/>
<path d="M1063.6 1039.5 L1066.4 1047.9 L1074.4 1047.9 L1068.8 1054.1 L1071.8 1065 L1063.6 1057.2 L1055.4 1065 L1058.4 1054.1 L1052.8 1047.9 L1060.8 1047.9 Z" fill="#EE2A29"/>
<path d="M1065.1 1035.92 L1067.9 1044.32 L1075.9 1044.32 L1070.3 1050.52 L1073.3 1061.42 L1065.1 1053.62 L1056.9 1061.42 L1059.9 1050.52 L1054.3 1044.32 L1062.3 1044.32 Z" fill="#EE2A29"/>
<path d="M1068.3 1041.16 L1071.1 1049.56 L1079.1 1049.56 L1073.5 1055.76 L1076.5 1066.66 L1068.3 1058.86 L1060.1 1066.66 L1063.1 1055.76 L1057.5 1049.56 L1065.5 1049.56 Z" fill="#EE2A29"/>
<path d="M1088.62 1055.68 L1091.42 1064.08 L1099.42 1064.08 L1093.82 1070.28 L1096.82 1081.18 L1088.62 1073.38 L1080.42 1081.18 L1083.42 1070.28 L1077.82 1064.08 L1085.82 1064.08 Z" fill="#EE2A29"/>
<path d="M1113.64 1068.67 L1116.44 1077.07 L1124.44 1077.07 L1118.84 1083.27 L1121.84 1094.17 L1113.64 1086.37 L1105.44 1094.17 L1108.44 1083.27 L1102.84 1077.07 L1110.84 1077.07 Z" fill="#EE2A29"/>
<path d="M1238.74 1140 L1241.54 1148.4 L1249.54 1148.4 L1243.94 1154.6 L1246.94 1165.5 L1238.74 1157.7 L1230.54 1165.5 L1233.54 1154.6 L1227.94 1148.4 L1235.94 1148.4 Z" fill="#EE2A29"/>
<path d="M1413.88 1237.36 L1416.68 1245.76 L1424.68 1245.76 L1419.08 1251.96 L1422.08 1262.86 L1413.88 1255.06 L1405.68 1262.86 L1408.68 1251.96 L1403.08 1245.76 L1411.08 1245.76 Z" fill="#EE2A29"/>
<path d="M1587.98 1383.45 L1590.78 1391.85 L1598.78 1391.85 L1593.18 1398.05 L1596.18 1408.95 L1587.98 1401.15 L1579.78 1408.95 L1582.78 1398.05 L1577.18 1391.85 L1585.18 1391.85 Z" fill="#EE2A29"/>
<path d="M1063.6 1181.74 V1190.1 M1059.4 1181.74 H1067.8 M1059.4 1190.1 H1067.8" fill="none" stroke="#2756A8" stroke-width="2.1"/>
<path d="M1065.1 1180.45 V1188.62 M1060.9 1180.45 H1069.3 M1060.9 1188.62 H1069.3" fill="none" stroke="#2756A8" stroke-width="2.1"/>
<path d="M1068.3 1157.58 V1183.19 M1064.1 1157.58 H1072.5 M1064.1 1183.19 H1072.5" fill="none" stroke="#2756A8" stroke-width="2.1"/>
<path d="M1088.62 1173.87 V1201.36 M1084.42 1173.87 H1092.82 M1084.42 1201.36 H1092.82" fill="none" stroke="#2756A8" stroke-width="2.1"/>
<path d="M1113.64 1192.75 V1222.5 M1109.44 1192.75 H1117.84 M1109.44 1222.5 H1117.84" fill="none" stroke="#2756A8" stroke-width="2.1"/>
<path d="M1238.74 1288.01 V1329.11 M1234.54 1288.01 H1242.94 M1234.54 1329.11 H1242.94" fill="none" stroke="#2756A8" stroke-width="2.1"/>
<path d="M1063.6 1095.26 V1115.01 M1059.4 1095.26 H1067.8 M1059.4 1115.01 H1067.8" fill="none" stroke="#F89C32" stroke-width="2.1"/>
<path d="M1065.1 1091.5 V1114.13 M1060.9 1091.5 H1069.3 M1060.9 1114.13 H1069.3" fill="none" stroke="#F89C32" stroke-width="2.1"/>
<path d="M1068.3 1099.27 V1114.72 M1064.1 1099.27 H1072.5 M1064.1 1114.72 H1072.5" fill="none" stroke="#F89C32" stroke-width="2.1"/>
<path d="M1088.62 1111.08 V1131.29 M1084.42 1111.08 H1092.82 M1084.42 1131.29 H1092.82" fill="none" stroke="#F89C32" stroke-width="2.1"/>
<path d="M1113.64 1126.77 V1145.25 M1109.44 1126.77 H1117.84 M1109.44 1145.25 H1117.84" fill="none" stroke="#F89C32" stroke-width="2.1"/>
<path d="M1238.74 1199.82 V1223.54 M1234.54 1199.82 H1242.94 M1234.54 1223.54 H1242.94" fill="none" stroke="#F89C32" stroke-width="2.1"/>
<path d="M1413.88 1295.92 V1365.86 M1409.68 1295.92 H1418.08 M1409.68 1365.86 H1418.08" fill="none" stroke="#F89C32" stroke-width="2.1"/>
<path d="M1063.6 1075.75 V1085.84 M1059.4 1075.75 H1067.8 M1059.4 1085.84 H1067.8" fill="none" stroke="#38803F" stroke-width="2.1"/>
<path d="M1065.1 1077.47 V1085.4 M1060.9 1077.47 H1069.3 M1060.9 1085.4 H1069.3" fill="none" stroke="#38803F" stroke-width="2.1"/>
<path d="M1068.3 1081.31 V1094.65 M1064.1 1081.31 H1072.5 M1064.1 1094.65 H1072.5" fill="none" stroke="#38803F" stroke-width="2.1"/>
<path d="M1088.62 1093.28 V1120.27 M1084.42 1093.28 H1092.82 M1084.42 1120.27 H1092.82" fill="none" stroke="#38803F" stroke-width="2.1"/>
<path d="M1113.64 1106.8 V1147.85 M1109.44 1106.8 H1117.84 M1109.44 1147.85 H1117.84" fill="none" stroke="#38803F" stroke-width="2.1"/>
<path d="M1238.74 1154.64 V1221.23 M1234.54 1154.64 H1242.94 M1234.54 1221.23 H1242.94" fill="none" stroke="#38803F" stroke-width="2.1"/>
<path d="M1413.88 1255.53 V1341.27 M1409.68 1255.53 H1418.08 M1409.68 1341.27 H1418.08" fill="none" stroke="#38803F" stroke-width="2.1"/>
<path d="M1063.6 1040.75 V1066.62 M1059.4 1040.75 H1067.8 M1059.4 1066.62 H1067.8" fill="none" stroke="#EE2A29" stroke-width="2.1"/>
<path d="M1065.1 1041.95 V1056.36 M1060.9 1041.95 H1069.3 M1060.9 1056.36 H1069.3" fill="none" stroke="#EE2A29" stroke-width="2.1"/>
<path d="M1068.3 1047.01 V1061.82 M1064.1 1047.01 H1072.5 M1064.1 1061.82 H1072.5" fill="none" stroke="#EE2A29" stroke-width="2.1"/>
<path d="M1088.62 1061.13 V1076.87 M1084.42 1061.13 H1092.82 M1084.42 1076.87 H1092.82" fill="none" stroke="#EE2A29" stroke-width="2.1"/>
<path d="M1113.64 1074.16 V1089.8 M1109.44 1074.16 H1117.84 M1109.44 1089.8 H1117.84" fill="none" stroke="#EE2A29" stroke-width="2.1"/>
<path d="M1238.74 1144.81 V1162.02 M1234.54 1144.81 H1242.94 M1234.54 1162.02 H1242.94" fill="none" stroke="#EE2A29" stroke-width="2.1"/>
<path d="M1413.88 1235.41 V1269.8 M1409.68 1235.41 H1418.08 M1409.68 1269.8 H1418.08" fill="none" stroke="#EE2A29" stroke-width="2.1"/>
<rect x="1031.2" y="905" width="579.3" height="592.5" fill="none" stroke="#000" stroke-width="2.2"/>
<line x1="1020.7" y1="1476.4" x2="1031.2" y2="1476.4" stroke="#000" stroke-width="2.1"/>
<text x="1016.85" y="1486.5" font-family="Liberation Sans, Arial, Helvetica, sans-serif" font-size="23.4" letter-spacing="0.35" text-anchor="end" fill="#111">100</text>
<line x1="1020.7" y1="1338.7" x2="1031.2" y2="1338.7" stroke="#000" stroke-width="2.1"/>
<text x="1017.15" y="1348.8" font-family="Liberation Sans, Arial, Helvetica, sans-serif" font-size="23.4" letter-spacing="0.35" text-anchor="end" fill="#111">1000</text>
<line x1="1020.7" y1="1201" x2="1031.2" y2="1201" stroke="#000" stroke-width="2.1"/>
<text x="1017.45" y="1211.1" font-family="Liberation Sans, Arial, Helvetica, sans-serif" font-size="23.4" letter-spacing="0.35" text-anchor="end" fill="#111">10000</text>
<line x1="1020.7" y1="1063.3" x2="1031.2" y2="1063.3" stroke="#000" stroke-width="2.1"/>
<text x="1017.75" y="1073.4" font-family="Liberation Sans, Arial, Helvetica, sans-serif" font-size="23.4" letter-spacing="0.35" text-anchor="end" fill="#111">100000</text>
<line x1="1020.7" y1="925.6" x2="1031.2" y2="925.6" stroke="#000" stroke-width="2.1"/>
<text x="1016.85" y="935.7" font-family="Liberation Sans, Arial, Helvetica, sans-serif" font-size="23.4" letter-spacing="0.35" text-anchor="end" fill="#111">1E6</text>
<line x1="1053.4" y1="1497.5" x2="1053.4" y2="1507.5" stroke="#000" stroke-width="2.1"/>
<text x="1053.8" y="1535.2" font-family="Liberation Sans, Arial, Helvetica, sans-serif" font-size="23.4" letter-spacing="0.35" text-anchor="middle" fill="#111">A</text>
<line x1="1063.6" y1="1497.5" x2="1063.6" y2="1507.5" stroke="#000" stroke-width="2.1"/>
<text x="1064" y="1535.2" font-family="Liberation Sans, Arial, Helvetica, sans-serif" font-size="23.4" letter-spacing="0.35" text-anchor="middle" fill="#111">0</text>
<line x1="1151.17" y1="1497.5" x2="1151.17" y2="1507.5" stroke="#000" stroke-width="2.1"/>
<text x="1151.57" y="1535.2" font-family="Liberation Sans, Arial, Helvetica, sans-serif" font-size="23.4" letter-spacing="0.35" text-anchor="middle" fill="#111">84</text>
<line x1="1238.74" y1="1497.5" x2="1238.74" y2="1507.5" stroke="#000" stroke-width="2.1"/>
<text x="1239.14" y="1535.2" font-family="Liberation Sans, Arial, Helvetica, sans-serif" font-size="23.4" letter-spacing="0.35" text-anchor="middle" fill="#111">168</text>
<line x1="1326.31" y1="1497.5" x2="1326.31" y2="1507.5" stroke="#000" stroke-width="2.1"/>
<text x="1326.71" y="1535.2" font-family="Liberation Sans, Arial, Helvetica, sans-serif" font-size="23.4" letter-spacing="0.35" text-anchor="middle" fill="#111">252</text>
<line x1="1413.88" y1="1497.5" x2="1413.88" y2="1507.5" stroke="#000" stroke-width="2.1"/>
<text x="1414.28" y="1535.2" font-family="Liberation Sans, Arial, Helvetica, sans-serif" font-size="23.4" letter-spacing="0.35" text-anchor="middle" fill="#111">336</text>
<line x1="1501.45" y1="1497.5" x2="1501.45" y2="1507.5" stroke="#000" stroke-width="2.1"/>
<text x="1501.85" y="1535.2" font-family="Liberation Sans, Arial, Helvetica, sans-serif" font-size="23.4" letter-spacing="0.35" text-anchor="middle" fill="#111">420</text>
<line x1="1587.98" y1="1497.5" x2="1587.98" y2="1507.5" stroke="#000" stroke-width="2.1"/>
<text x="1588.38" y="1535.2" font-family="Liberation Sans, Arial, Helvetica, sans-serif" font-size="23.4" letter-spacing="0.35" text-anchor="middle" fill="#111">503</text>
<text x="1311" y="878.7" font-family="Liberation Sans, Arial, Helvetica, sans-serif" font-size="24.9" text-anchor="middle" fill="#111">Semi-logarithmic scale</text>
<text x="1261.3" y="1581.4" font-family="Liberation Sans, Arial, Helvetica, sans-serif" font-size="33" textLength="73.4" lengthAdjust="spacing" fill="#111">Time</text>
<text x="1353" y="1581.4" font-family="Liberation Sans, Arial, Helvetica, sans-serif" font-size="33" textLength="44.8" lengthAdjust="spacing" fill="#111">(h)</text>
<text transform="translate(910.6 1199.2) rotate(-90)" font-family="Liberation Sans, Arial, Helvetica, sans-serif" font-size="34.3" textLength="332.26" lengthAdjust="spacing" text-anchor="middle" fill="#111">Concentration (ng/mL)</text>
</g>
<g id="cL">
<polyline fill="none" stroke="#2756A8" stroke-width="2.3" stroke-linejoin="round" points="109.1,2265.4 119.3,2261.27 127.8,2243.23 148.82,2223.04 176.84,2223.04 316.92,2228.33 513.05,2255.07 708,2263.86"/>
<polyline fill="none" stroke="#F89C32" stroke-width="2.3" stroke-linejoin="round" points="109.1,2265.4 119.3,2251.33 121.3,2226.67 125.1,2217.44 148.82,2193.38 176.84,2185.59 316.92,2183.32 513.05,2217.97 708,2247.92"/>
<polyline fill="none" stroke="#38803F" stroke-width="2.3" stroke-linejoin="round" points="109.1,2265.4 119.3,2235.9 121.3,2177.27 125.1,2155.33 148.82,2082.33 176.84,2048.28 316.92,2099.73 513.05,2199.13 708,2251.63"/>
<polyline fill="none" stroke="#EE2A29" stroke-width="2.3" stroke-linejoin="round" points="109.1,2265.4 119.3,2244.82 121.3,2204.88 125.1,2202.61 148.82,2174.62 176.84,2169.32 316.92,2158.73 513.05,2190.36 708,2254.96"/>
<path d="M109.1 2259.3 L115.2 2271.5 L103 2271.5 Z" fill="#2756A8"/>
<path d="M119.3 2255.17 L125.4 2267.37 L113.2 2267.37 Z" fill="#2756A8"/>
<path d="M127.8 2237.13 L133.9 2249.33 L121.7 2249.33 Z" fill="#2756A8"/>
<path d="M148.82 2216.94 L154.92 2229.14 L142.72 2229.14 Z" fill="#2756A8"/>
<path d="M176.84 2216.94 L182.94 2229.14 L170.74 2229.14 Z" fill="#2756A8"/>
<path d="M316.92 2222.23 L323.02 2234.43 L310.82 2234.43 Z" fill="#2756A8"/>
<path d="M513.05 2248.97 L519.15 2261.17 L506.95 2261.17 Z" fill="#2756A8"/>
<path d="M708 2257.76 L714.1 2269.96 L701.9 2269.96 Z" fill="#2756A8"/>
<circle cx="109.1" cy="2265.4" r="6" fill="#F89C32"/>
<circle cx="119.3" cy="2251.33" r="6" fill="#F89C32"/>
<circle cx="121.3" cy="2226.67" r="6" fill="#F89C32"/>
<circle cx="125.1" cy="2217.44" r="6" fill="#F89C32"/>
<circle cx="148.82" cy="2193.38" r="6" fill="#F89C32"/>
<circle cx="176.84" cy="2185.59" r="6" fill="#F89C32"/>
<circle cx="316.92" cy="2183.32" r="6" fill="#F89C32"/>
<circle cx="513.05" cy="2217.97" r="6" fill="#F89C32"/>
<circle cx="708" cy="2247.92" r="6" fill="#F89C32"/>
<rect x="104.1" y="2260.4" width="10" height="10" fill="#38803F"/>
<rect x="114.3" y="2230.9" width="10" height="10" fill="#38803F"/>
<rect x="116.3" y="2172.27" width="10" height="10" fill="#38803F"/>
<rect x="120.1" y="2150.33" width="10" height="10" fill="#38803F"/>
<rect x="143.82" y="2077.33" width="10" height="10" fill="#38803F"/>
<rect x="171.84" y="2043.28" width="10" height="10" fill="#38803F"/>
<rect x="311.92" y="2094.73" width="10" height="10" fill="#38803F"/>
<rect x="508.05" y="2194.13" width="10" height="10" fill="#38803F"/>
<rect x="703" y="2246.63" width="10" height="10" fill="#38803F"/>
<path d="M109.1 2252.6 L111.9 2261 L119.9 2261 L114.3 2267.2 L117.3 2278.1 L109.1 2270.3 L100.9 2278.1 L103.9 2267.2 L98.3 2261 L106.3 2261 Z" fill="#EE2A29"/>
<path d="M119.3 2232.02 L122.1 2240.42 L130.1 2240.42 L124.5 2246.62 L127.5 2257.52 L119.3 2249.72 L111.1 2257.52 L114.1 2246.62 L108.5 2240.42 L116.5 2240.42 Z" fill="#EE2A29"/>
<path d="M121.3 2192.08 L124.1 2200.48 L132.1 2200.48 L126.5 2206.68 L129.5 2217.58 L121.3 2209.78 L113.1 2217.58 L116.1 2206.68 L110.5 2200.48 L118.5 2200.48 Z" fill="#EE2A29"/>
<path d="M125.1 2189.81 L127.9 2198.21 L135.9 2198.21 L130.3 2204.41 L133.3 2215.31 L125.1 2207.51 L116.9 2215.31 L119.9 2204.41 L114.3 2198.21 L122.3 2198.21 Z" fill="#EE2A29"/>
<path d="M148.82 2161.82 L151.62 2170.22 L159.62 2170.22 L154.02 2176.42 L157.02 2187.32 L148.82 2179.52 L140.62 2187.32 L143.62 2176.42 L138.02 2170.22 L146.02 2170.22 Z" fill="#EE2A29"/>
<path d="M176.84 2156.52 L179.64 2164.92 L187.64 2164.92 L182.04 2171.12 L185.04 2182.02 L176.84 2174.22 L168.64 2182.02 L171.64 2171.12 L166.04 2164.92 L174.04 2164.92 Z" fill="#EE2A29"/>
<path d="M316.92 2145.93 L319.72 2154.33 L327.72 2154.33 L322.12 2160.53 L325.12 2171.43 L316.92 2163.63 L308.72 2171.43 L311.72 2160.53 L306.12 2154.33 L314.12 2154.33 Z" fill="#EE2A29"/>
<path d="M513.05 2177.56 L515.85 2185.96 L523.85 2185.96 L518.25 2192.16 L521.25 2203.06 L513.05 2195.26 L504.85 2203.06 L507.85 2192.16 L502.25 2185.96 L510.25 2185.96 Z" fill="#EE2A29"/>
<path d="M708 2242.16 L710.8 2250.56 L718.8 2250.56 L713.2 2256.76 L716.2 2267.66 L708 2259.86 L699.8 2267.66 L702.8 2256.76 L697.2 2250.56 L705.2 2250.56 Z" fill="#EE2A29"/>
<path d="M119.3 2259.87 V2262.67 M115.1 2259.87 H123.5 M115.1 2262.67 H123.5" fill="none" stroke="#2756A8" stroke-width="2.1"/>
<path d="M127.8 2229.77 V2256.7 M123.6 2229.77 H132 M123.6 2256.7 H132" fill="none" stroke="#2756A8" stroke-width="2.1"/>
<path d="M148.82 2196.03 V2250.04 M144.62 2196.03 H153.02 M144.62 2250.04 H153.02" fill="none" stroke="#2756A8" stroke-width="2.1"/>
<path d="M176.84 2197.92 V2248.15 M172.64 2197.92 H181.04 M172.64 2248.15 H181.04" fill="none" stroke="#2756A8" stroke-width="2.1"/>
<path d="M316.92 2213.2 V2243.46 M312.72 2213.2 H321.12 M312.72 2243.46 H321.12" fill="none" stroke="#2756A8" stroke-width="2.1"/>
<path d="M513.05 2251.44 V2258.7 M508.85 2251.44 H517.25 M508.85 2258.7 H517.25" fill="none" stroke="#2756A8" stroke-width="2.1"/>
<path d="M708 2263.07 V2264.66 M703.8 2263.07 H712.2 M703.8 2264.66 H712.2" fill="none" stroke="#2756A8" stroke-width="2.1"/>
<path d="M119.3 2245.5 V2257.15 M115.1 2245.5 H123.5 M115.1 2257.15 H123.5" fill="none" stroke="#F89C32" stroke-width="2.1"/>
<path d="M121.3 2211.54 V2241.8 M117.1 2211.54 H125.5 M117.1 2241.8 H125.5" fill="none" stroke="#F89C32" stroke-width="2.1"/>
<path d="M125.1 2198.53 V2236.35 M120.9 2198.53 H129.3 M120.9 2236.35 H129.3" fill="none" stroke="#F89C32" stroke-width="2.1"/>
<path d="M148.82 2172.58 V2214.18 M144.62 2172.58 H153.02 M144.62 2214.18 H153.02" fill="none" stroke="#F89C32" stroke-width="2.1"/>
<path d="M176.84 2157.6 V2213.58 M172.64 2157.6 H181.04 M172.64 2213.58 H181.04" fill="none" stroke="#F89C32" stroke-width="2.1"/>
<path d="M316.92 2152.3 V2214.34 M312.72 2152.3 H321.12 M312.72 2214.34 H321.12" fill="none" stroke="#F89C32" stroke-width="2.1"/>
<path d="M513.05 2199.58 V2236.35 M508.85 2199.58 H517.25 M508.85 2236.35 H517.25" fill="none" stroke="#F89C32" stroke-width="2.1"/>
<path d="M708 2238.92 V2256.93 M703.8 2238.92 H712.2 M703.8 2256.93 H712.2" fill="none" stroke="#F89C32" stroke-width="2.1"/>
<path d="M119.3 2211.16 V2260.63 M115.1 2211.16 H123.5 M115.1 2260.63 H123.5" fill="none" stroke="#38803F" stroke-width="2.1"/>
<path d="M121.3 2110.7 V2243.84 M117.1 2110.7 H125.5 M117.1 2243.84 H125.5" fill="none" stroke="#38803F" stroke-width="2.1"/>
<path d="M125.1 2048.66 V2262 M120.9 2048.66 H129.3 M120.9 2262 H129.3" fill="none" stroke="#38803F" stroke-width="2.1"/>
<path d="M148.82 1871.49 V2293.16 M144.62 1871.49 H153.02 M144.62 2293.16 H153.02" fill="none" stroke="#38803F" stroke-width="2.1"/>
<path d="M176.84 1772.92 V2323.65 M172.64 1772.92 H181.04 M172.64 2323.65 H181.04" fill="none" stroke="#38803F" stroke-width="2.1"/>
<path d="M316.92 1957.13 V2242.33 M312.72 1957.13 H321.12 M312.72 2242.33 H321.12" fill="none" stroke="#38803F" stroke-width="2.1"/>
<path d="M513.05 2179.76 V2218.5 M508.85 2179.76 H517.25 M508.85 2218.5 H517.25" fill="none" stroke="#38803F" stroke-width="2.1"/>
<path d="M708 2238.31 V2264.95 M703.8 2238.31 H712.2 M703.8 2264.95 H712.2" fill="none" stroke="#38803F" stroke-width="2.1"/>
<path d="M119.3 2234.23 V2255.41 M115.1 2234.23 H123.5 M115.1 2255.41 H123.5" fill="none" stroke="#EE2A29" stroke-width="2.1"/>
<path d="M121.3 2174.62 V2235.14 M117.1 2174.62 H125.5 M117.1 2235.14 H125.5" fill="none" stroke="#EE2A29" stroke-width="2.1"/>
<path d="M125.1 2173.11 V2232.11 M120.9 2173.11 H129.3 M120.9 2232.11 H129.3" fill="none" stroke="#EE2A29" stroke-width="2.1"/>
<path d="M148.82 2144.36 V2204.88 M144.62 2144.36 H153.02 M144.62 2204.88 H153.02" fill="none" stroke="#EE2A29" stroke-width="2.1"/>
<path d="M176.84 2142.85 V2195.8 M172.64 2142.85 H181.04 M172.64 2195.8 H181.04" fill="none" stroke="#EE2A29" stroke-width="2.1"/>
<path d="M316.92 2126.2 V2191.26 M312.72 2126.2 H321.12 M312.72 2191.26 H321.12" fill="none" stroke="#EE2A29" stroke-width="2.1"/>
<path d="M513.05 2173.71 V2207 M508.85 2173.71 H517.25 M508.85 2207 H517.25" fill="none" stroke="#EE2A29" stroke-width="2.1"/>
<path d="M708 2239.83 V2270.09 M703.8 2239.83 H712.2 M703.8 2270.09 H712.2" fill="none" stroke="#EE2A29" stroke-width="2.1"/>
<rect x="87.2" y="1753.9" width="643.7" height="590.8" fill="none" stroke="#000" stroke-width="2.2"/>
<line x1="76.7" y1="2265.4" x2="87.2" y2="2265.4" stroke="#000" stroke-width="2.1"/>
<text x="71.45" y="2274.3" font-family="Liberation Sans, Arial, Helvetica, sans-serif" font-size="23.4" letter-spacing="0.35" text-anchor="end" fill="#111">0</text>
<line x1="76.7" y1="2114.1" x2="87.2" y2="2114.1" stroke="#000" stroke-width="2.1"/>
<text x="71.45" y="2123" font-family="Liberation Sans, Arial, Helvetica, sans-serif" font-size="23.4" letter-spacing="0.35" text-anchor="end" fill="#111">2</text>
<line x1="76.7" y1="1962.8" x2="87.2" y2="1962.8" stroke="#000" stroke-width="2.1"/>
<text x="71.45" y="1971.7" font-family="Liberation Sans, Arial, Helvetica, sans-serif" font-size="23.4" letter-spacing="0.35" text-anchor="end" fill="#111">4</text>
<line x1="76.7" y1="1811.5" x2="87.2" y2="1811.5" stroke="#000" stroke-width="2.1"/>
<text x="71.45" y="1820.4" font-family="Liberation Sans, Arial, Helvetica, sans-serif" font-size="23.4" letter-spacing="0.35" text-anchor="end" fill="#111">6</text>
<line x1="109.1" y1="2344.7" x2="109.1" y2="2354.7" stroke="#000" stroke-width="2.1"/>
<text x="109.5" y="2382.9" font-family="Liberation Sans, Arial, Helvetica, sans-serif" font-size="23.4" letter-spacing="0.35" text-anchor="middle" fill="#111">A</text>
<line x1="120.8" y1="2344.7" x2="120.8" y2="2354.7" stroke="#000" stroke-width="2.1"/>
<text x="121.2" y="2382.9" font-family="Liberation Sans, Arial, Helvetica, sans-serif" font-size="23.4" letter-spacing="0.35" text-anchor="middle" fill="#111">0</text>
<line x1="218.86" y1="2344.7" x2="218.86" y2="2354.7" stroke="#000" stroke-width="2.1"/>
<text x="219.26" y="2382.9" font-family="Liberation Sans, Arial, Helvetica, sans-serif" font-size="23.4" letter-spacing="0.35" text-anchor="middle" fill="#111">84</text>
<line x1="316.92" y1="2344.7" x2="316.92" y2="2354.7" stroke="#000" stroke-width="2.1"/>
<text x="317.32" y="2382.9" font-family="Liberation Sans, Arial, Helvetica, sans-serif" font-size="23.4" letter-spacing="0.35" text-anchor="middle" fill="#111">168</text>
<line x1="414.98" y1="2344.7" x2="414.98" y2="2354.7" stroke="#000" stroke-width="2.1"/>
<text x="415.38" y="2382.9" font-family="Liberation Sans, Arial, Helvetica, sans-serif" font-size="23.4" letter-spacing="0.35" text-anchor="middle" fill="#111">252</text>
<line x1="513.05" y1="2344.7" x2="513.05" y2="2354.7" stroke="#000" stroke-width="2.1"/>
<text x="513.45" y="2382.9" font-family="Liberation Sans, Arial, Helvetica, sans-serif" font-size="23.4" letter-spacing="0.35" text-anchor="middle" fill="#111">336</text>
<line x1="611.11" y1="2344.7" x2="611.11" y2="2354.7" stroke="#000" stroke-width="2.1"/>
<text x="611.51" y="2382.9" font-family="Liberation Sans, Arial, Helvetica, sans-serif" font-size="23.4" letter-spacing="0.35" text-anchor="middle" fill="#111">420</text>
<line x1="708" y1="2344.7" x2="708" y2="2354.7" stroke="#000" stroke-width="2.1"/>
<text x="708.4" y="2382.9" font-family="Liberation Sans, Arial, Helvetica, sans-serif" font-size="23.4" letter-spacing="0.35" text-anchor="middle" fill="#111">503</text>
<text x="406" y="1726.6" font-family="Liberation Sans, Arial, Helvetica, sans-serif" font-size="24.9" text-anchor="middle" fill="#111">Linear scale</text>
<text x="349.2" y="2428.7" font-family="Liberation Sans, Arial, Helvetica, sans-serif" font-size="33" textLength="73.4" lengthAdjust="spacing" fill="#111">Time</text>
<text x="440.5" y="2428.7" font-family="Liberation Sans, Arial, Helvetica, sans-serif" font-size="33" textLength="44.8" lengthAdjust="spacing" fill="#111">(h)</text>
<text transform="translate(29.7 2048.3) rotate(-90)" font-family="Liberation Sans, Arial, Helvetica, sans-serif" font-size="34.3" textLength="332.26" lengthAdjust="spacing" text-anchor="middle" fill="#111">Concentration (ng/mL)</text>
</g>
<g id="cR">
<polyline fill="none" stroke="#2756A8" stroke-width="2.3" stroke-linejoin="round" points="1042.8,2085.26 1049.2,1984.86 1068.62,1946.15 1094.65,1946.15 1224.76,1954.13 1406.92,2030.51 1588,2144.39"/>
<polyline fill="none" stroke="#F89C32" stroke-width="2.3" stroke-linejoin="round" points="1042.8,2012.02 1043.6,1951.5 1047,1938.73 1068.62,1914.44 1094.65,1908.3 1224.76,1906.62 1406.92,1939.4 1588,1999.07"/>
<polyline fill="none" stroke="#38803F" stroke-width="2.3" stroke-linejoin="round" points="1042.8,1967.77 1043.6,1902.37 1047,1889.09 1068.62,1858.69 1094.65,1848.5 1224.76,1864.65 1406.92,1919.41 1588,2013.31"/>
<polyline fill="none" stroke="#EE2A29" stroke-width="2.3" stroke-linejoin="round" points="1042.8,1989.3 1043.6,1924.83 1047,1922.63 1068.62,1900.6 1094.65,1897.22 1224.76,1890.97 1406.92,1911.98 1588,2029.85"/>
<path d="M1042.8 2079.16 L1048.9 2091.36 L1036.7 2091.36 Z" fill="#2756A8"/>
<path d="M1049.2 1978.76 L1055.3 1990.96 L1043.1 1990.96 Z" fill="#2756A8"/>
<path d="M1068.62 1940.05 L1074.72 1952.25 L1062.52 1952.25 Z" fill="#2756A8"/>
<path d="M1094.65 1940.05 L1100.75 1952.25 L1088.55 1952.25 Z" fill="#2756A8"/>
<path d="M1224.76 1948.03 L1230.86 1960.23 L1218.66 1960.23 Z" fill="#2756A8"/>
<path d="M1406.92 2024.41 L1413.02 2036.61 L1400.82 2036.61 Z" fill="#2756A8"/>
<path d="M1588 2138.29 L1594.1 2150.49 L1581.9 2150.49 Z" fill="#2756A8"/>
<circle cx="1042.8" cy="2012.02" r="6" fill="#F89C32"/>
<circle cx="1043.6" cy="1951.5" r="6" fill="#F89C32"/>
<circle cx="1047" cy="1938.73" r="6" fill="#F89C32"/>
<circle cx="1068.62" cy="1914.44" r="6" fill="#F89C32"/>
<circle cx="1094.65" cy="1908.3" r="6" fill="#F89C32"/>
<circle cx="1224.76" cy="1906.62" r="6" fill="#F89C32"/>
<circle cx="1406.92" cy="1939.4" r="6" fill="#F89C32"/>
<circle cx="1588" cy="1999.07" r="6" fill="#F89C32"/>
<rect x="1037.8" y="1962.77" width="10" height="10" fill="#38803F"/>
<rect x="1038.6" y="1897.37" width="10" height="10" fill="#38803F"/>
<rect x="1042" y="1884.09" width="10" height="10" fill="#38803F"/>
<rect x="1063.62" y="1853.69" width="10" height="10" fill="#38803F"/>
<rect x="1089.65" y="1843.5" width="10" height="10" fill="#38803F"/>
<rect x="1219.76" y="1859.65" width="10" height="10" fill="#38803F"/>
<rect x="1401.92" y="1914.41" width="10" height="10" fill="#38803F"/>
<rect x="1583" y="2008.31" width="10" height="10" fill="#38803F"/>
<path d="M1042.8 1976.5 L1045.6 1984.9 L1053.6 1984.9 L1048 1991.1 L1051 2002 L1042.8 1994.2 L1034.6 2002 L1037.6 1991.1 L1032 1984.9 L1040 1984.9 Z" fill="#EE2A29"/>
<path d="M1043.6 1912.03 L1046.4 1920.43 L1054.4 1920.43 L1048.8 1926.63 L1051.8 1937.53 L1043.6 1929.73 L1035.4 1937.53 L1038.4 1926.63 L1032.8 1920.43 L1040.8 1920.43 Z" fill="#EE2A29"/>
<path d="M1047 1909.83 L1049.8 1918.23 L1057.8 1918.23 L1052.2 1924.43 L1055.2 1935.33 L1047 1927.53 L1038.8 1935.33 L1041.8 1924.43 L1036.2 1918.23 L1044.2 1918.23 Z" fill="#EE2A29"/>
<path d="M1068.62 1887.8 L1071.42 1896.2 L1079.42 1896.2 L1073.82 1902.4 L1076.82 1913.3 L1068.62 1905.5 L1060.42 1913.3 L1063.42 1902.4 L1057.82 1896.2 L1065.82 1896.2 Z" fill="#EE2A29"/>
<path d="M1094.65 1884.42 L1097.45 1892.82 L1105.45 1892.82 L1099.85 1899.02 L1102.85 1909.92 L1094.65 1902.12 L1086.45 1909.92 L1089.45 1899.02 L1083.85 1892.82 L1091.85 1892.82 Z" fill="#EE2A29"/>
<path d="M1224.76 1878.17 L1227.56 1886.57 L1235.56 1886.57 L1229.96 1892.77 L1232.96 1903.67 L1224.76 1895.87 L1216.56 1903.67 L1219.56 1892.77 L1213.96 1886.57 L1221.96 1886.57 Z" fill="#EE2A29"/>
<path d="M1406.92 1899.18 L1409.72 1907.58 L1417.72 1907.58 L1412.12 1913.78 L1415.12 1924.68 L1406.92 1916.88 L1398.72 1924.68 L1401.72 1913.78 L1396.12 1907.58 L1404.12 1907.58 Z" fill="#EE2A29"/>
<path d="M1588 2017.05 L1590.8 2025.45 L1598.8 2025.45 L1593.2 2031.65 L1596.2 2042.55 L1588 2034.75 L1579.8 2042.55 L1582.8 2031.65 L1577.2 2025.45 L1585.2 2025.45 Z" fill="#EE2A29"/>
<path d="M1042.8 2067.82 V2109.99 M1038.6 2067.82 H1047 M1038.6 2109.99 H1047" fill="none" stroke="#2756A8" stroke-width="2.1"/>
<path d="M1049.2 1956.49 V2040.75 M1045 1956.49 H1053.4 M1045 2040.75 H1053.4" fill="none" stroke="#2756A8" stroke-width="2.1"/>
<path d="M1068.62 1916.68 V2006.79 M1064.42 1916.68 H1072.82 M1064.42 2006.79 H1072.82" fill="none" stroke="#2756A8" stroke-width="2.1"/>
<path d="M1094.65 1918.33 V1999.85 M1090.45 1918.33 H1098.85 M1090.45 1999.85 H1098.85" fill="none" stroke="#2756A8" stroke-width="2.1"/>
<path d="M1224.76 1933.67 V1985.47 M1220.56 1933.67 H1228.96 M1220.56 1985.47 H1228.96" fill="none" stroke="#2756A8" stroke-width="2.1"/>
<path d="M1406.92 2012.5 V2056.4 M1402.72 2012.5 H1411.12 M1402.72 2056.4 H1411.12" fill="none" stroke="#2756A8" stroke-width="2.1"/>
<path d="M1588 2119.48 V2187.91 M1583.8 2119.48 H1592.2 M1583.8 2187.91 H1592.2" fill="none" stroke="#2756A8" stroke-width="2.1"/>
<path d="M1042.8 1991.31 V2043.95 M1038.6 1991.31 H1047 M1038.6 2043.95 H1047" fill="none" stroke="#F89C32" stroke-width="2.1"/>
<path d="M1043.6 1931.8 V1981.1 M1039.4 1931.8 H1047.8 M1039.4 1981.1 H1047.8" fill="none" stroke="#F89C32" stroke-width="2.1"/>
<path d="M1047 1918.87 V1968.7 M1042.8 1918.87 H1051.2 M1042.8 1968.7 H1051.2" fill="none" stroke="#F89C32" stroke-width="2.1"/>
<path d="M1068.62 1899.27 V1934.81 M1064.42 1899.27 H1072.82 M1064.42 1934.81 H1072.82" fill="none" stroke="#F89C32" stroke-width="2.1"/>
<path d="M1094.65 1890.34 V1934.11 M1090.45 1890.34 H1098.85 M1090.45 1934.11 H1098.85" fill="none" stroke="#F89C32" stroke-width="2.1"/>
<path d="M1224.76 1887.47 V1934.99 M1220.56 1887.47 H1228.96 M1220.56 1934.99 H1228.96" fill="none" stroke="#F89C32" stroke-width="2.1"/>
<path d="M1406.92 1919.82 V1968.7 M1402.72 1919.82 H1411.12 M1402.72 1968.7 H1411.12" fill="none" stroke="#F89C32" stroke-width="2.1"/>
<path d="M1588 1974.24 V2042.33 M1583.8 1974.24 H1592.2 M1583.8 2042.33 H1592.2" fill="none" stroke="#F89C32" stroke-width="2.1"/>
<path d="M1042.8 1931.38 V2076.71 M1038.6 1931.38 H1047 M1038.6 2076.71 H1047" fill="none" stroke="#38803F" stroke-width="2.1"/>
<path d="M1043.6 1868.75 V1986.51 M1039.4 1868.75 H1047.8 M1039.4 1986.51 H1047.8" fill="none" stroke="#38803F" stroke-width="2.1"/>
<path d="M1047 1848.6 V2096.82 M1042.8 1848.6 H1051.2 M1042.8 2096.82 H1051.2" fill="none" stroke="#38803F" stroke-width="2.1"/>
<path d="M1224.76 1827.55 V1982.46 M1220.56 1827.55 H1228.96 M1220.56 1982.46 H1228.96" fill="none" stroke="#38803F" stroke-width="2.1"/>
<path d="M1406.92 1904.09 V1940.07 M1402.72 1904.09 H1411.12 M1402.72 1940.07 H1411.12" fill="none" stroke="#38803F" stroke-width="2.1"/>
<path d="M1588 1972.87 V2218.23 M1583.8 1972.87 H1592.2 M1583.8 2218.23 H1592.2" fill="none" stroke="#38803F" stroke-width="2.1"/>
<path d="M1042.8 1964.49 V2032.51 M1038.6 1964.49 H1047 M1038.6 2032.51 H1047" fill="none" stroke="#EE2A29" stroke-width="2.1"/>
<path d="M1043.6 1900.6 V1966.26 M1039.4 1900.6 H1047.8 M1039.4 1966.26 H1047.8" fill="none" stroke="#EE2A29" stroke-width="2.1"/>
<path d="M1047 1899.62 V1960.56 M1042.8 1899.62 H1051.2 M1042.8 1960.56 H1051.2" fill="none" stroke="#EE2A29" stroke-width="2.1"/>
<path d="M1068.62 1883.41 V1924.83 M1064.42 1883.41 H1072.82 M1064.42 1924.83 H1072.82" fill="none" stroke="#EE2A29" stroke-width="2.1"/>
<path d="M1094.65 1882.67 V1916.48 M1090.45 1882.67 H1098.85 M1090.45 1916.48 H1098.85" fill="none" stroke="#EE2A29" stroke-width="2.1"/>
<path d="M1224.76 1875.06 V1912.71 M1220.56 1875.06 H1228.96 M1220.56 1912.71 H1228.96" fill="none" stroke="#EE2A29" stroke-width="2.1"/>
<path d="M1406.92 1900.01 V1926.96 M1402.72 1900.01 H1411.12 M1402.72 1926.96 H1411.12" fill="none" stroke="#EE2A29" stroke-width="2.1"/>
<rect x="1010.4" y="1753.2" width="600.1" height="591.6" fill="none" stroke="#000" stroke-width="2.2"/>
<line x1="999.9" y1="2324.3" x2="1010.4" y2="2324.3" stroke="#000" stroke-width="2.1"/>
<text x="994.35" y="2333.4" font-family="Liberation Sans, Arial, Helvetica, sans-serif" font-size="23.4" letter-spacing="0.35" text-anchor="end" fill="#111">0.001</text>
<line x1="999.9" y1="2186.7" x2="1010.4" y2="2186.7" stroke="#000" stroke-width="2.1"/>
<text x="994.35" y="2195.8" font-family="Liberation Sans, Arial, Helvetica, sans-serif" font-size="23.4" letter-spacing="0.35" text-anchor="end" fill="#111">0.01</text>
<line x1="999.9" y1="2049.1" x2="1010.4" y2="2049.1" stroke="#000" stroke-width="2.1"/>
<text x="994.35" y="2058.2" font-family="Liberation Sans, Arial, Helvetica, sans-serif" font-size="23.4" letter-spacing="0.35" text-anchor="end" fill="#111">0.1</text>
<line x1="999.9" y1="1911.5" x2="1010.4" y2="1911.5" stroke="#000" stroke-width="2.1"/>
<text x="994.35" y="1920.6" font-family="Liberation Sans, Arial, Helvetica, sans-serif" font-size="23.4" letter-spacing="0.35" text-anchor="end" fill="#111">1</text>
<line x1="999.9" y1="1773.9" x2="1010.4" y2="1773.9" stroke="#000" stroke-width="2.1"/>
<text x="994.35" y="1783" font-family="Liberation Sans, Arial, Helvetica, sans-serif" font-size="23.4" letter-spacing="0.35" text-anchor="end" fill="#111">10</text>
<line x1="1031.9" y1="2344.8" x2="1031.9" y2="2354.8" stroke="#000" stroke-width="2.1"/>
<text x="1032.3" y="2382.8" font-family="Liberation Sans, Arial, Helvetica, sans-serif" font-size="23.4" letter-spacing="0.35" text-anchor="middle" fill="#111">A</text>
<line x1="1042.6" y1="2344.8" x2="1042.6" y2="2354.8" stroke="#000" stroke-width="2.1"/>
<text x="1043" y="2382.8" font-family="Liberation Sans, Arial, Helvetica, sans-serif" font-size="23.4" letter-spacing="0.35" text-anchor="middle" fill="#111">0</text>
<line x1="1133.68" y1="2344.8" x2="1133.68" y2="2354.8" stroke="#000" stroke-width="2.1"/>
<text x="1134.08" y="2382.8" font-family="Liberation Sans, Arial, Helvetica, sans-serif" font-size="23.4" letter-spacing="0.35" text-anchor="middle" fill="#111">84</text>
<line x1="1224.76" y1="2344.8" x2="1224.76" y2="2354.8" stroke="#000" stroke-width="2.1"/>
<text x="1225.16" y="2382.8" font-family="Liberation Sans, Arial, Helvetica, sans-serif" font-size="23.4" letter-spacing="0.35" text-anchor="middle" fill="#111">168</text>
<line x1="1315.84" y1="2344.8" x2="1315.84" y2="2354.8" stroke="#000" stroke-width="2.1"/>
<text x="1316.24" y="2382.8" font-family="Liberation Sans, Arial, Helvetica, sans-serif" font-size="23.4" letter-spacing="0.35" text-anchor="middle" fill="#111">252</text>
<line x1="1406.92" y1="2344.8" x2="1406.92" y2="2354.8" stroke="#000" stroke-width="2.1"/>
<text x="1407.32" y="2382.8" font-family="Liberation Sans, Arial, Helvetica, sans-serif" font-size="23.4" letter-spacing="0.35" text-anchor="middle" fill="#111">336</text>
<line x1="1498.01" y1="2344.8" x2="1498.01" y2="2354.8" stroke="#000" stroke-width="2.1"/>
<text x="1498.41" y="2382.8" font-family="Liberation Sans, Arial, Helvetica, sans-serif" font-size="23.4" letter-spacing="0.35" text-anchor="middle" fill="#111">420</text>
<line x1="1588" y1="2344.8" x2="1588" y2="2354.8" stroke="#000" stroke-width="2.1"/>
<text x="1588.4" y="2382.8" font-family="Liberation Sans, Arial, Helvetica, sans-serif" font-size="23.4" letter-spacing="0.35" text-anchor="middle" fill="#111">503</text>
<text x="1301.3" y="1726.6" font-family="Liberation Sans, Arial, Helvetica, sans-serif" font-size="24.9" text-anchor="middle" fill="#111">Semi-logarithmic scale</text>
<text x="1251.2" y="2428.1" font-family="Liberation Sans, Arial, Helvetica, sans-serif" font-size="33" textLength="73.4" lengthAdjust="spacing" fill="#111">Time</text>
<text x="1343.6" y="2428.1" font-family="Liberation Sans, Arial, Helvetica, sans-serif" font-size="33" textLength="44.8" lengthAdjust="spacing" fill="#111">(h)</text>
<text transform="translate(907.5 2048.3) rotate(-90)" font-family="Liberation Sans, Arial, Helvetica, sans-serif" font-size="34.3" textLength="332.26" lengthAdjust="spacing" text-anchor="middle" fill="#111">Concentration (ng/mL)</text>
</g>
<g id="legend">
<line x1="305.2" y1="2473.2" x2="404.8" y2="2473.2" stroke="#2756A8" stroke-width="2.3"/>
<path d="M355.8 2465 L364.2 2481.8 L347.4 2481.8 Z" fill="#2756A8"/>
<text x="417.6" y="2483" font-family="Liberation Sans, Arial, Helvetica, sans-serif" font-size="25.2" textLength="114.8" lengthAdjust="spacing" fill="#111">1.0 mg/kg</text>
<line x1="601.3" y1="2473.2" x2="700.8" y2="2473.2" stroke="#F89C32" stroke-width="2.3"/>
<circle cx="651.8" cy="2473.2" r="8.3" fill="#F89C32"/>
<text x="713.6" y="2485.8" font-family="Liberation Sans, Arial, Helvetica, sans-serif" font-size="25.2" textLength="114.8" lengthAdjust="spacing" fill="#111">2.0 mg/kg</text>
<line x1="897.4" y1="2473.2" x2="996.4" y2="2473.2" stroke="#38803F" stroke-width="2.3"/>
<rect x="940.05" y="2464.95" width="14.3" height="14.3" fill="#38803F"/>
<text x="1009.6" y="2485.8" font-family="Liberation Sans, Arial, Helvetica, sans-serif" font-size="25.2" textLength="114.8" lengthAdjust="spacing" fill="#111">3.0 mg/kg</text>
<line x1="1193.6" y1="2473.2" x2="1292.9" y2="2473.2" stroke="#EE2A29" stroke-width="2.3"/>
<path d="M1244.4 2461 L1248.6 2466.2 L1256.4 2468.5 L1251.7 2475.1 L1251.7 2485.9 L1244.4 2479.6 L1237.1 2485.9 L1237.1 2475.1 L1232.4 2468.5 L1240.2 2466.2 Z" fill="#EE2A29"/>
<text x="1305.8" y="2485.8" font-family="Liberation Sans, Arial, Helvetica, sans-serif" font-size="25.2" textLength="114.8" lengthAdjust="spacing" fill="#111">4.0 mg/kg</text>
</g>
</svg>
</body></html>
